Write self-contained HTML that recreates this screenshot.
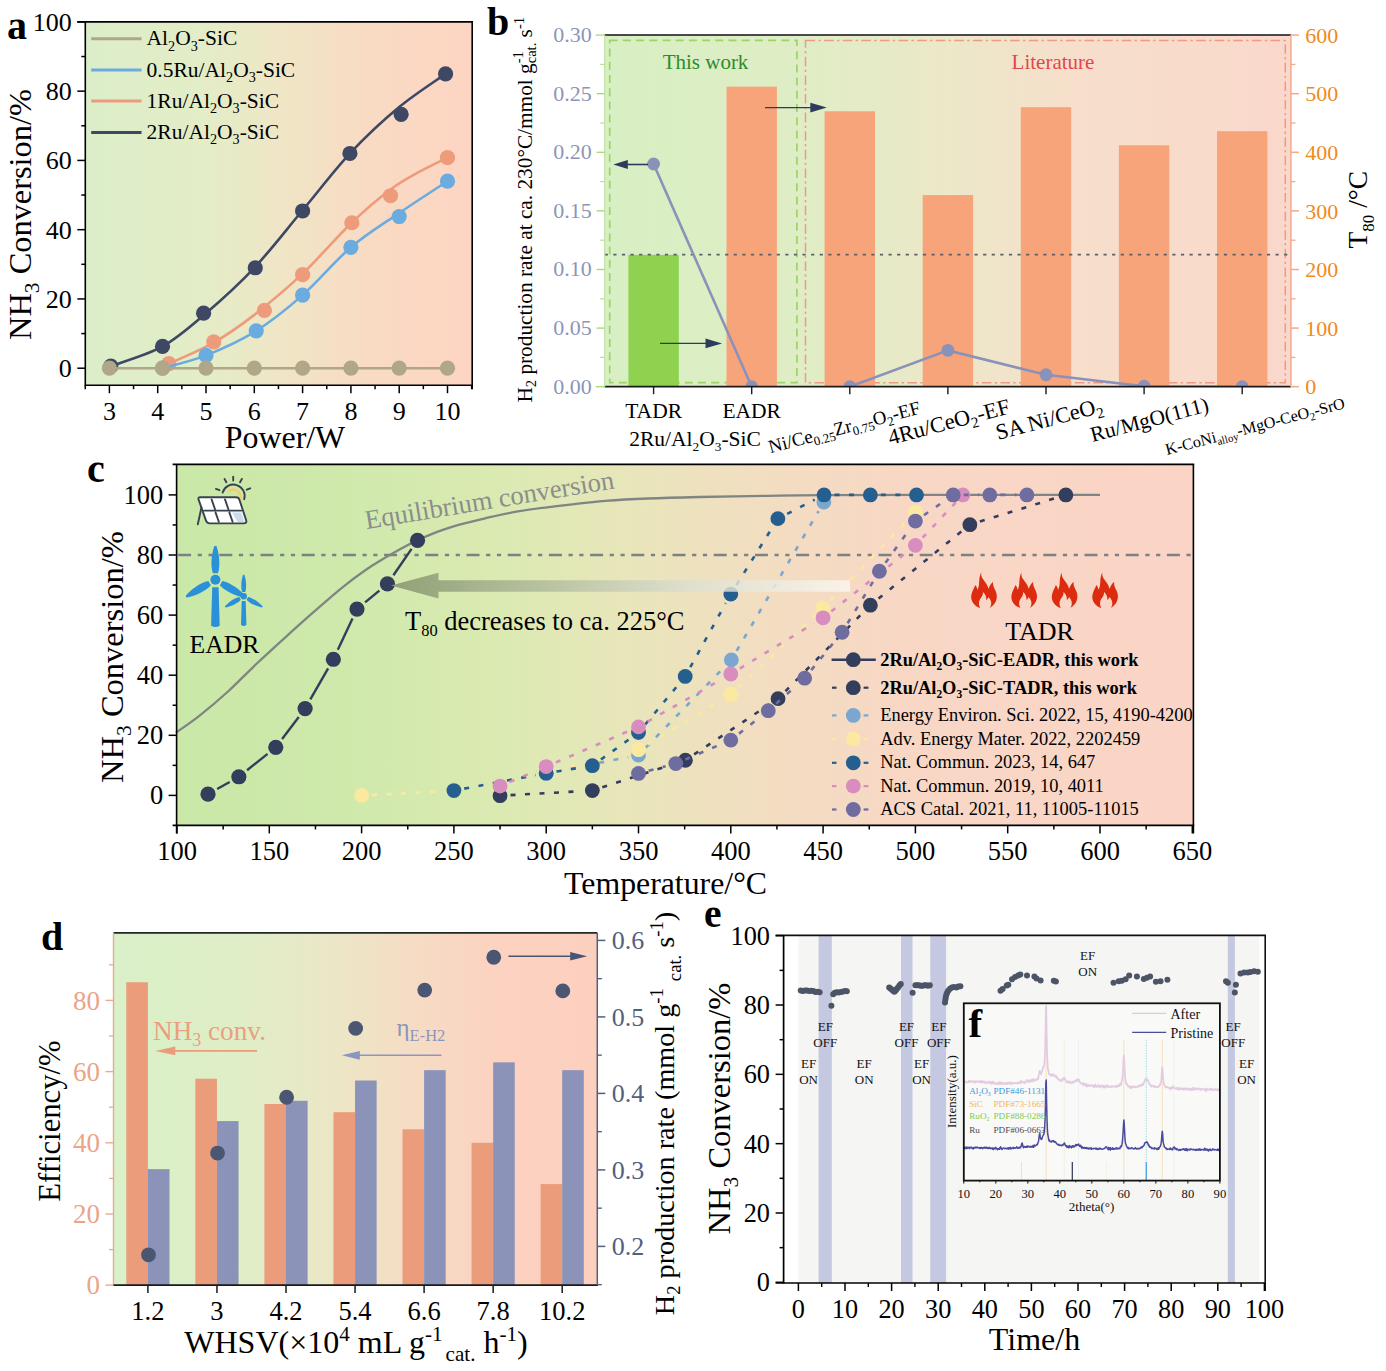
<!DOCTYPE html>
<html lang="en"><head><meta charset="utf-8"><title>Figure</title>
<style>html,body{margin:0;padding:0;background:#fff}svg{display:block}text{font-family:'Liberation Serif', 'Noto Serif CJK SC', serif;white-space:pre}</style></head>
<body>
<svg width="1386" height="1371" viewBox="0 0 1386 1371">
<defs>
<linearGradient id="ga" x1="0" y1="0" x2="1" y2="0"><stop offset="0" stop-color="#dbeec9"/><stop offset="0.3" stop-color="#e3edc7"/><stop offset="0.5" stop-color="#efe6c6"/><stop offset="0.72" stop-color="#f9dbc4"/><stop offset="1" stop-color="#fdd5c2"/></linearGradient>
<linearGradient id="gb" x1="0" y1="0" x2="1" y2="0"><stop offset="0" stop-color="#d8efc3"/><stop offset="0.28" stop-color="#dfedc5"/><stop offset="0.5" stop-color="#ece8c8"/><stop offset="0.68" stop-color="#f6dfcb"/><stop offset="1" stop-color="#fad8cb"/></linearGradient>
<clipPath id="cb"><rect x="604.7" y="35.1" width="686.2" height="351.6"/></clipPath>
<linearGradient id="gc" x1="0" y1="0" x2="1" y2="0"><stop offset="0" stop-color="#cae8a8"/><stop offset="0.15" stop-color="#cee9ab"/><stop offset="0.32" stop-color="#dbeab2"/><stop offset="0.44" stop-color="#e8e6ba"/><stop offset="0.57" stop-color="#f2dec1"/><stop offset="0.72" stop-color="#f8d7c5"/><stop offset="1" stop-color="#fbd4c6"/></linearGradient>
<linearGradient id="garr" x1="0" y1="0" x2="1" y2="0"><stop offset="0" stop-color="#8d9b73" stop-opacity="0.92"/><stop offset="0.1" stop-color="#95a37d" stop-opacity="0.9"/><stop offset="0.35" stop-color="#b3bd9f" stop-opacity="0.85"/><stop offset="0.65" stop-color="#dcdfd0" stop-opacity="0.8"/><stop offset="1" stop-color="#fbf6ee" stop-opacity="0.85"/></linearGradient>
<linearGradient id="gd" x1="0" y1="0" x2="1" y2="0"><stop offset="0" stop-color="#d9f0c8"/><stop offset="0.25" stop-color="#dfeec7"/><stop offset="0.45" stop-color="#ebe7c6"/><stop offset="0.62" stop-color="#f6dcc4"/><stop offset="0.8" stop-color="#fcd2c0"/><stop offset="1" stop-color="#fdcfbe"/></linearGradient>
</defs>
<rect x="85.3" y="21.9" width="386.9" height="363.3" fill="url(#ga)"/>
<path d="M110.85 366.12 C119.46 362.83 146.67 355.21 162.53 346.38 C178.39 337.55 190.7 326.24 206 313.14 C221.3 300.04 238.2 284.91 254.3 267.77 C270.4 250.63 286.5 229.51 302.6 210.29 C318.7 191.07 334.8 169.65 350.9 152.46 C367 135.26 383.42 120.19 399.2 107.09 C414.98 93.99 437.84 79.39 445.57 73.84" fill="none" stroke="#3e4864" stroke-width="2.6"/>
<circle cx="110.85" cy="366.12" r="7.6" fill="#3e4864"/>
<circle cx="162.53" cy="346.38" r="7.6" fill="#3e4864"/>
<circle cx="203.59" cy="313.14" r="7.6" fill="#3e4864"/>
<circle cx="255.27" cy="267.77" r="7.6" fill="#3e4864"/>
<circle cx="302.6" cy="210.98" r="7.6" fill="#3e4864"/>
<circle cx="349.93" cy="153.49" r="7.6" fill="#3e4864"/>
<circle cx="401.13" cy="114.36" r="7.6" fill="#3e4864"/>
<circle cx="445.57" cy="73.84" r="7.6" fill="#3e4864"/>
<path d="M168.81 363.7 C176.3 360.18 199.48 350.71 213.73 342.57 C227.98 334.44 239.49 326.36 254.3 314.87 C269.11 303.38 286.5 288.9 302.6 273.66 C318.7 258.42 336.41 237.36 350.9 223.45 C365.39 209.54 378.27 198.74 389.54 190.2 C400.81 181.66 408.86 177.62 418.52 172.19 C428.18 166.77 442.67 160.07 447.5 157.65" fill="none" stroke="#ee9b7b" stroke-width="2.6"/>
<circle cx="168.81" cy="363.7" r="7.6" fill="#ee9b7b"/>
<circle cx="213.73" cy="341.88" r="7.6" fill="#ee9b7b"/>
<circle cx="264.44" cy="310.37" r="7.6" fill="#ee9b7b"/>
<circle cx="302.6" cy="274.7" r="7.6" fill="#ee9b7b"/>
<circle cx="351.87" cy="222.75" r="7.6" fill="#ee9b7b"/>
<circle cx="390.51" cy="195.74" r="7.6" fill="#ee9b7b"/>
<circle cx="447.5" cy="157.65" r="7.6" fill="#ee9b7b"/>
<path d="M162.53 368.2 C169.77 366.06 190.38 361.62 206 355.39 C221.62 349.15 240.13 340.84 256.23 330.8 C272.33 320.76 286.82 309.04 302.6 295.13 C318.38 281.22 334.8 261.02 350.9 247.34 C367 233.66 383.1 224.08 399.2 213.06 C415.3 202.03 439.45 186.51 447.5 181.2" fill="none" stroke="#6aace0" stroke-width="2.6"/>
<circle cx="162.53" cy="368.2" r="7.6" fill="#6aace0"/>
<circle cx="206" cy="355.39" r="7.6" fill="#6aace0"/>
<circle cx="256.23" cy="330.8" r="7.6" fill="#6aace0"/>
<circle cx="302.6" cy="295.13" r="7.6" fill="#6aace0"/>
<circle cx="350.9" cy="247.34" r="7.6" fill="#6aace0"/>
<circle cx="399.2" cy="216.52" r="7.6" fill="#6aace0"/>
<circle cx="447.5" cy="181.2" r="7.6" fill="#6aace0"/>
<path d="M109.4 368.2 C165.75 368.2 391.15 368.2 447.5 368.2" fill="none" stroke="#b0a688" stroke-width="2.6"/>
<circle cx="109.4" cy="368.2" r="7.6" fill="#b0a688"/>
<circle cx="162.53" cy="368.2" r="7.6" fill="#b0a688"/>
<circle cx="206" cy="368.2" r="7.6" fill="#b0a688"/>
<circle cx="254.3" cy="368.2" r="7.6" fill="#b0a688"/>
<circle cx="302.6" cy="368.2" r="7.6" fill="#b0a688"/>
<circle cx="350.9" cy="368.2" r="7.6" fill="#b0a688"/>
<circle cx="399.2" cy="368.2" r="7.6" fill="#b0a688"/>
<circle cx="447.5" cy="368.2" r="7.6" fill="#b0a688"/>
<line x1="77.3" y1="21.9" x2="473" y2="21.9" stroke="#000" stroke-width="1.8"/>
<line x1="85.3" y1="21.9" x2="85.3" y2="386" stroke="#000" stroke-width="1.6"/>
<line x1="85.3" y1="385.2" x2="473" y2="385.2" stroke="#000" stroke-width="1.6"/>
<line x1="472.2" y1="21.9" x2="472.2" y2="389.2" stroke="#000" stroke-width="1.6"/>
<line x1="77.3" y1="368.2" x2="85.3" y2="368.2" stroke="#000" stroke-width="1.5"/>
<text x="71.7" y="377.1" font-size="26" fill="#000" text-anchor="end">0</text>
<line x1="77.3" y1="298.94" x2="85.3" y2="298.94" stroke="#000" stroke-width="1.5"/>
<text x="71.7" y="307.84" font-size="26" fill="#000" text-anchor="end">20</text>
<line x1="77.3" y1="229.68" x2="85.3" y2="229.68" stroke="#000" stroke-width="1.5"/>
<text x="71.7" y="238.58" font-size="26" fill="#000" text-anchor="end">40</text>
<line x1="77.3" y1="160.42" x2="85.3" y2="160.42" stroke="#000" stroke-width="1.5"/>
<text x="71.7" y="169.32" font-size="26" fill="#000" text-anchor="end">60</text>
<line x1="77.3" y1="91.16" x2="85.3" y2="91.16" stroke="#000" stroke-width="1.5"/>
<text x="71.7" y="100.06" font-size="26" fill="#000" text-anchor="end">80</text>
<line x1="77.3" y1="21.9" x2="85.3" y2="21.9" stroke="#000" stroke-width="1.5"/>
<text x="71.7" y="30.8" font-size="26" fill="#000" text-anchor="end">100</text>
<line x1="81.3" y1="333.57" x2="85.3" y2="333.57" stroke="#000" stroke-width="1.5"/>
<line x1="81.3" y1="264.31" x2="85.3" y2="264.31" stroke="#000" stroke-width="1.5"/>
<line x1="81.3" y1="195.05" x2="85.3" y2="195.05" stroke="#000" stroke-width="1.5"/>
<line x1="81.3" y1="125.79" x2="85.3" y2="125.79" stroke="#000" stroke-width="1.5"/>
<line x1="81.3" y1="56.53" x2="85.3" y2="56.53" stroke="#000" stroke-width="1.5"/>
<line x1="109.4" y1="385.2" x2="109.4" y2="393.2" stroke="#000" stroke-width="1.5"/>
<text x="109.4" y="420" font-size="26" fill="#000" text-anchor="middle">3</text>
<line x1="157.7" y1="385.2" x2="157.7" y2="393.2" stroke="#000" stroke-width="1.5"/>
<text x="157.7" y="420" font-size="26" fill="#000" text-anchor="middle">4</text>
<line x1="206" y1="385.2" x2="206" y2="393.2" stroke="#000" stroke-width="1.5"/>
<text x="206" y="420" font-size="26" fill="#000" text-anchor="middle">5</text>
<line x1="254.3" y1="385.2" x2="254.3" y2="393.2" stroke="#000" stroke-width="1.5"/>
<text x="254.3" y="420" font-size="26" fill="#000" text-anchor="middle">6</text>
<line x1="302.6" y1="385.2" x2="302.6" y2="393.2" stroke="#000" stroke-width="1.5"/>
<text x="302.6" y="420" font-size="26" fill="#000" text-anchor="middle">7</text>
<line x1="350.9" y1="385.2" x2="350.9" y2="393.2" stroke="#000" stroke-width="1.5"/>
<text x="350.9" y="420" font-size="26" fill="#000" text-anchor="middle">8</text>
<line x1="399.2" y1="385.2" x2="399.2" y2="393.2" stroke="#000" stroke-width="1.5"/>
<text x="399.2" y="420" font-size="26" fill="#000" text-anchor="middle">9</text>
<line x1="447.5" y1="385.2" x2="447.5" y2="393.2" stroke="#000" stroke-width="1.5"/>
<text x="447.5" y="420" font-size="26" fill="#000" text-anchor="middle">10</text>
<line x1="85.25" y1="385.2" x2="85.25" y2="389.2" stroke="#000" stroke-width="1.5"/>
<line x1="133.55" y1="385.2" x2="133.55" y2="389.2" stroke="#000" stroke-width="1.5"/>
<line x1="181.85" y1="385.2" x2="181.85" y2="389.2" stroke="#000" stroke-width="1.5"/>
<line x1="230.15" y1="385.2" x2="230.15" y2="389.2" stroke="#000" stroke-width="1.5"/>
<line x1="278.45" y1="385.2" x2="278.45" y2="389.2" stroke="#000" stroke-width="1.5"/>
<line x1="326.75" y1="385.2" x2="326.75" y2="389.2" stroke="#000" stroke-width="1.5"/>
<line x1="375.05" y1="385.2" x2="375.05" y2="389.2" stroke="#000" stroke-width="1.5"/>
<line x1="423.35" y1="385.2" x2="423.35" y2="389.2" stroke="#000" stroke-width="1.5"/>
<line x1="471.65" y1="385.2" x2="471.65" y2="389.2" stroke="#000" stroke-width="1.5"/>
<text x="285" y="448.4" font-size="31.9" fill="#000" text-anchor="middle">Power/W</text>
<text x="30.5" y="214.5" font-size="32.4" fill="#000" text-anchor="middle" transform="rotate(-90 30.5 214.5)">NH<tspan dy="8.42" font-size="21.38">3</tspan><tspan dy="-8.42"> Conversion/%</tspan></text>
<text x="7" y="39" font-size="40" fill="#000" font-weight="bold">a</text>
<line x1="91.2" y1="38.7" x2="141.5" y2="38.7" stroke="#b0a688" stroke-width="3"/>
<text x="146.6" y="45.4" font-size="21.5" fill="#000">Al<tspan dy="5.38" font-size="14.19">2</tspan><tspan dy="-5.38">O</tspan><tspan dy="5.38" font-size="14.19">3</tspan><tspan dy="-5.38">-SiC</tspan></text>
<line x1="91.2" y1="70" x2="141.5" y2="70" stroke="#6aace0" stroke-width="3"/>
<text x="146.6" y="76.7" font-size="21.5" fill="#000">0.5Ru/Al<tspan dy="5.38" font-size="14.19">2</tspan><tspan dy="-5.38">O</tspan><tspan dy="5.38" font-size="14.19">3</tspan><tspan dy="-5.38">-SiC</tspan></text>
<line x1="91.2" y1="101" x2="141.5" y2="101" stroke="#ee9b7b" stroke-width="3"/>
<text x="146.6" y="108" font-size="21.5" fill="#000">1Ru/Al<tspan dy="5.38" font-size="14.19">2</tspan><tspan dy="-5.38">O</tspan><tspan dy="5.38" font-size="14.19">3</tspan><tspan dy="-5.38">-SiC</tspan></text>
<line x1="91.2" y1="132.4" x2="141.5" y2="132.4" stroke="#3e4864" stroke-width="3"/>
<text x="146.6" y="138.8" font-size="21.5" fill="#000">2Ru/Al<tspan dy="5.38" font-size="14.19">2</tspan><tspan dy="-5.38">O</tspan><tspan dy="5.38" font-size="14.19">3</tspan><tspan dy="-5.38">-SiC</tspan></text>
<rect x="604.7" y="35.1" width="686.2" height="351.6" fill="url(#gb)"/>
<rect x="609.7" y="40.4" width="187.2" height="342.3" fill="none" stroke="#9bd468" stroke-width="1.7" stroke-dasharray="8 5.2"/>
<rect x="805.5" y="40.4" width="479.8" height="342.3" fill="none" stroke="#ef9a84" stroke-width="1.5" stroke-dasharray="9.6 3.3 2.4 3.3"/>
<rect x="628.4" y="254.85" width="50.4" height="131.85" fill="#8fd24f"/>
<rect x="726.5" y="86.67" width="50.4" height="300.03" fill="#f7a47b"/>
<rect x="824.6" y="111.28" width="50.4" height="275.42" fill="#f7a47b"/>
<rect x="922.7" y="195.08" width="50.4" height="191.62" fill="#f7a47b"/>
<rect x="1020.8" y="107.18" width="50.4" height="279.52" fill="#f7a47b"/>
<rect x="1118.9" y="145.27" width="50.4" height="241.43" fill="#f7a47b"/>
<rect x="1217" y="131.2" width="50.4" height="255.5" fill="#f7a47b"/>
<line x1="604.7" y1="254.6" x2="1290.9" y2="254.6" stroke="#5b6068" stroke-width="1.6" stroke-dasharray="3.2 5.4"/>
<g clip-path="url(#cb)">
<polyline points="653.6,164.02 751.7,386.7" fill="none" stroke="#8a92b9" stroke-width="2.6"/>
<polyline points="849.8,386.7 947.9,350.37 1046,374.75 1144.1,386.23 1242.2,386.7" fill="none" stroke="#8a92b9" stroke-width="2.6"/>
<circle cx="653.6" cy="164.02" r="6.4" fill="#8a92b9"/>
<circle cx="751.7" cy="386.7" r="6.4" fill="#8a92b9"/>
<circle cx="849.8" cy="386.7" r="6.4" fill="#8a92b9"/>
<circle cx="947.9" cy="350.37" r="6.4" fill="#8a92b9"/>
<circle cx="1046" cy="374.75" r="6.4" fill="#8a92b9"/>
<circle cx="1144.1" cy="386.23" r="6.4" fill="#8a92b9"/>
<circle cx="1242.2" cy="386.7" r="6.4" fill="#8a92b9"/>
</g>
<line x1="648" y1="164.5" x2="624.9" y2="164.5" stroke="#2f3b5c" stroke-width="1.6"/>
<path d="M613.3 164.5 L627.8 159.9 L627.8 169.1 Z" fill="#2f3b5c"/>
<line x1="660" y1="343.4" x2="708.8" y2="343.4" stroke="#2f3b5c" stroke-width="1.4"/>
<path d="M722 343.4 L705.5 338.6 L705.5 348.2 Z" fill="#2f3b5c"/>
<line x1="765" y1="107.6" x2="813.6" y2="107.6" stroke="#2f3b5c" stroke-width="1.4"/>
<path d="M826.8 107.6 L810.3 102.8 L810.3 112.4 Z" fill="#2f3b5c"/>
<line x1="595.7" y1="35.1" x2="604.7" y2="35.1" stroke="#a5db7c" stroke-width="1.3"/>
<line x1="604.7" y1="35.1" x2="1290.9" y2="35.1" stroke="#111" stroke-width="1.5"/>
<line x1="595.7" y1="386.7" x2="604.7" y2="386.7" stroke="#a5db7c" stroke-width="1.5"/>
<line x1="604.7" y1="386.7" x2="1290.9" y2="386.7" stroke="#1a1a1a" stroke-width="1.8"/>
<line x1="604.7" y1="35.1" x2="604.7" y2="386.7" stroke="#bfe3a0" stroke-width="1.2"/>
<line x1="1290.9" y1="35.1" x2="1290.9" y2="386.7" stroke="#f4a88e" stroke-width="1.5"/>
<text x="591.7" y="393.6" font-size="22" fill="#8d95b6" text-anchor="end">0.00</text>
<line x1="596.7" y1="328.1" x2="604.7" y2="328.1" stroke="#a5db7c" stroke-width="1.4"/>
<text x="591.7" y="335" font-size="22" fill="#8d95b6" text-anchor="end">0.05</text>
<line x1="596.7" y1="269.5" x2="604.7" y2="269.5" stroke="#a5db7c" stroke-width="1.4"/>
<text x="591.7" y="276.4" font-size="22" fill="#8d95b6" text-anchor="end">0.10</text>
<line x1="596.7" y1="210.9" x2="604.7" y2="210.9" stroke="#a5db7c" stroke-width="1.4"/>
<text x="591.7" y="217.8" font-size="22" fill="#8d95b6" text-anchor="end">0.15</text>
<line x1="596.7" y1="152.3" x2="604.7" y2="152.3" stroke="#a5db7c" stroke-width="1.4"/>
<text x="591.7" y="159.2" font-size="22" fill="#8d95b6" text-anchor="end">0.20</text>
<line x1="596.7" y1="93.7" x2="604.7" y2="93.7" stroke="#a5db7c" stroke-width="1.4"/>
<text x="591.7" y="100.6" font-size="22" fill="#8d95b6" text-anchor="end">0.25</text>
<text x="591.7" y="42" font-size="22" fill="#8d95b6" text-anchor="end">0.30</text>
<line x1="600.2" y1="357.4" x2="604.7" y2="357.4" stroke="#b5e08f" stroke-width="1.2"/>
<line x1="600.2" y1="298.8" x2="604.7" y2="298.8" stroke="#b5e08f" stroke-width="1.2"/>
<line x1="600.2" y1="240.2" x2="604.7" y2="240.2" stroke="#b5e08f" stroke-width="1.2"/>
<line x1="600.2" y1="181.6" x2="604.7" y2="181.6" stroke="#b5e08f" stroke-width="1.2"/>
<line x1="600.2" y1="123" x2="604.7" y2="123" stroke="#b5e08f" stroke-width="1.2"/>
<line x1="600.2" y1="64.4" x2="604.7" y2="64.4" stroke="#b5e08f" stroke-width="1.2"/>
<line x1="1290.9" y1="386.7" x2="1298.9" y2="386.7" stroke="#f4a88e" stroke-width="1.5"/>
<text x="1305.2" y="394.3" font-size="22" fill="#f08a1d">0</text>
<line x1="1290.9" y1="328.1" x2="1298.9" y2="328.1" stroke="#f4a88e" stroke-width="1.5"/>
<text x="1305.2" y="335.7" font-size="22" fill="#f08a1d">100</text>
<line x1="1290.9" y1="269.5" x2="1298.9" y2="269.5" stroke="#f4a88e" stroke-width="1.5"/>
<text x="1305.2" y="277.1" font-size="22" fill="#f08a1d">200</text>
<line x1="1290.9" y1="210.9" x2="1298.9" y2="210.9" stroke="#f4a88e" stroke-width="1.5"/>
<text x="1305.2" y="218.5" font-size="22" fill="#f08a1d">300</text>
<line x1="1290.9" y1="152.3" x2="1298.9" y2="152.3" stroke="#f4a88e" stroke-width="1.5"/>
<text x="1305.2" y="159.9" font-size="22" fill="#f08a1d">400</text>
<line x1="1290.9" y1="93.7" x2="1298.9" y2="93.7" stroke="#f4a88e" stroke-width="1.5"/>
<text x="1305.2" y="101.3" font-size="22" fill="#f08a1d">500</text>
<line x1="1290.9" y1="35.1" x2="1298.9" y2="35.1" stroke="#f4a88e" stroke-width="1.5"/>
<text x="1305.2" y="42.7" font-size="22" fill="#f08a1d">600</text>
<line x1="1290.9" y1="357.4" x2="1295.4" y2="357.4" stroke="#f4a88e" stroke-width="1.3"/>
<line x1="1290.9" y1="298.8" x2="1295.4" y2="298.8" stroke="#f4a88e" stroke-width="1.3"/>
<line x1="1290.9" y1="240.2" x2="1295.4" y2="240.2" stroke="#f4a88e" stroke-width="1.3"/>
<line x1="1290.9" y1="181.6" x2="1295.4" y2="181.6" stroke="#f4a88e" stroke-width="1.3"/>
<line x1="1290.9" y1="123" x2="1295.4" y2="123" stroke="#f4a88e" stroke-width="1.3"/>
<line x1="1290.9" y1="64.4" x2="1295.4" y2="64.4" stroke="#f4a88e" stroke-width="1.3"/>
<line x1="653.6" y1="386.7" x2="653.6" y2="394.2" stroke="#1a1a1a" stroke-width="1.4"/>
<line x1="751.7" y1="386.7" x2="751.7" y2="394.2" stroke="#1a1a1a" stroke-width="1.4"/>
<line x1="849.8" y1="386.7" x2="849.8" y2="394.2" stroke="#1a1a1a" stroke-width="1.4"/>
<line x1="947.9" y1="386.7" x2="947.9" y2="394.2" stroke="#1a1a1a" stroke-width="1.4"/>
<line x1="1046" y1="386.7" x2="1046" y2="394.2" stroke="#1a1a1a" stroke-width="1.4"/>
<line x1="1144.1" y1="386.7" x2="1144.1" y2="394.2" stroke="#1a1a1a" stroke-width="1.4"/>
<line x1="1242.2" y1="386.7" x2="1242.2" y2="394.2" stroke="#1a1a1a" stroke-width="1.4"/>
<text x="705.5" y="69.3" font-size="21" fill="#2f8a2e" text-anchor="middle">This work</text>
<text x="1053" y="69" font-size="21" fill="#e2464c" text-anchor="middle">Literature</text>
<text x="653.6" y="418.2" font-size="21.5" fill="#000" text-anchor="middle">TADR</text>
<text x="751.7" y="418.2" font-size="21.5" fill="#000" text-anchor="middle">EADR</text>
<text x="695" y="446.2" font-size="21.5" fill="#000" text-anchor="middle">2Ru/Al<tspan dy="4.73" font-size="13.33">2</tspan><tspan dy="-4.73">O</tspan><tspan dy="4.73" font-size="13.33">3</tspan><tspan dy="-4.73">-SiC</tspan></text>
<text x="845.8" y="433.3" font-size="18.9" fill="#000" text-anchor="middle" transform="rotate(-14.8 845.8 433.3)">Ni/Ce<tspan dy="4.16" font-size="12.85">0.25</tspan><tspan dy="-4.16">Zr</tspan><tspan dy="4.16" font-size="12.85">0.75</tspan><tspan dy="-4.16">O</tspan><tspan dy="4.16" font-size="12.85">2</tspan><tspan dy="-4.16">-EF</tspan></text>
<text x="950.7" y="429" font-size="22.3" fill="#000" text-anchor="middle" transform="rotate(-14.8 950.7 429)">4Ru/CeO<tspan dy="4.91" font-size="15.16">2</tspan><tspan dy="-4.91">-EF</tspan></text>
<text x="1051" y="426" font-size="22.3" fill="#000" text-anchor="middle" transform="rotate(-14.8 1051 426)">SA Ni/CeO<tspan dy="4.91" font-size="15.16">2</tspan></text>
<text x="1151.3" y="426.5" font-size="21.5" fill="#000" text-anchor="middle" transform="rotate(-14.8 1151.3 426.5)">Ru/MgO(111)</text>
<text x="1256.4" y="431.5" font-size="16.1" fill="#000" text-anchor="middle" transform="rotate(-14.8 1256.4 431.5)">K-CoNi<tspan dy="3.54" font-size="10.95">alloy</tspan><tspan dy="-3.54">-MgO-CeO</tspan><tspan dy="3.54" font-size="10.95">2</tspan><tspan dy="-3.54">-SrO</tspan></text>
<text x="531.6" y="209.8" font-size="21.3" fill="#000" text-anchor="middle" transform="rotate(-90 531.6 209.8)">H<tspan dy="4.69" font-size="14.48">2</tspan><tspan dy="-4.69"> production rate at ca. 230°C/mmol g</tspan><tspan dy="-8.95" font-size="14.48">-1</tspan><tspan dx="-12" dy="13.21" font-size="14.48">cat.</tspan><tspan dy="-4.26"> s</tspan><tspan dy="-8.09" font-size="14.48">-1</tspan></text>
<text x="1367.5" y="209.7" font-size="27.5" fill="#000" text-anchor="middle" transform="rotate(-90 1367.5 209.7)">T<tspan dy="6.05" font-size="17.05">80</tspan><tspan dy="-6.05"> /°C</tspan></text>
<text x="487" y="35.2" font-size="40" fill="#000" font-weight="bold">b</text>
<rect x="176.6" y="464.3" width="1016.8" height="361.1" fill="url(#gc)"/>
<line x1="176.6" y1="555" x2="1193.4" y2="555" stroke="#7c8184" stroke-width="2.5" stroke-dasharray="13 6.6 4.2 6.6 4.2 6.6" stroke-dashoffset="-1.5"/>
<path d="M175.89 732.6 C179.74 729.84 190.32 722.88 198.97 716.07 C207.61 709.26 218.17 700.44 227.76 691.73 C237.36 683.01 246.96 672.85 256.56 663.78 C266.16 654.72 275.73 646.05 285.36 637.34 C294.99 628.62 304.71 619.91 314.34 611.49 C323.97 603.08 333.54 594.47 343.14 586.85 C352.74 579.24 362.31 572.18 371.94 565.82 C381.57 559.46 391.29 553.85 400.92 548.69 C410.55 543.53 420.12 538.82 429.72 534.87 C439.32 530.91 448.89 527.8 458.51 524.95 C468.14 522.1 477.87 519.94 487.5 517.74 C497.13 515.53 506.7 513.43 516.29 511.73 C525.89 510.03 536.14 508.72 545.09 507.52 C554.05 506.32 559.98 505.62 570.01 504.52 C580.04 503.41 592.32 501.91 605.27 500.91 C618.22 499.91 632.04 499.16 647.73 498.51 C663.42 497.85 679.42 497.45 699.42 497 C719.42 496.55 747.11 496.1 767.72 495.8 C788.33 495.5 792.33 495.35 823.1 495.2 C853.87 495.05 906.17 494.95 952.32 494.9 C998.47 494.85 1075.39 494.9 1100 494.9" fill="none" stroke="#7f8582" stroke-width="2.3"/>
<text x="366.5" y="529" font-size="26.6" fill="#8a8f8c" transform="rotate(-9.3 366.5 529)">Equilibrium conversion</text>
<line x1="510.53" y1="795.12" x2="581.87" y2="791.17" stroke="#333d5c" stroke-width="2.6" stroke-dasharray="5 9.5"/>
<line x1="602.33" y1="787.34" x2="675.41" y2="763.5" stroke="#333d5c" stroke-width="2.6" stroke-dasharray="5 9.5"/>
<line x1="694.13" y1="754.43" x2="769.31" y2="704.45" stroke="#333d5c" stroke-width="2.6" stroke-dasharray="5 9.5"/>
<line x1="785.44" y1="691.17" x2="862.98" y2="612.65" stroke="#333d5c" stroke-width="2.6" stroke-dasharray="5 9.5"/>
<line x1="878.52" y1="598.58" x2="961.7" y2="531.26" stroke="#333d5c" stroke-width="2.6" stroke-dasharray="5 9.5"/>
<line x1="979.89" y1="521.54" x2="1055.82" y2="498.01" stroke="#333d5c" stroke-width="2.6" stroke-dasharray="5 9.5"/>
<circle cx="500.05" cy="795.7" r="7.4" fill="#333d5c"/>
<circle cx="592.35" cy="790.59" r="7.4" fill="#333d5c"/>
<circle cx="685.39" cy="760.24" r="7.4" fill="#333d5c"/>
<circle cx="778.06" cy="698.64" r="7.4" fill="#333d5c"/>
<circle cx="870.36" cy="605.18" r="7.4" fill="#333d5c"/>
<circle cx="969.86" cy="524.65" r="7.4" fill="#333d5c"/>
<circle cx="1065.85" cy="494.9" r="7.4" fill="#333d5c"/>
<line x1="556.51" y1="771.15" x2="628.19" y2="757.15" stroke="#7ba6cf" stroke-width="2.6" stroke-dasharray="5 9.5"/>
<line x1="645.83" y1="747.61" x2="724.02" y2="667.39" stroke="#7ba6cf" stroke-width="2.6" stroke-dasharray="5 9.5"/>
<line x1="736.66" y1="650.82" x2="818.53" y2="511.17" stroke="#7ba6cf" stroke-width="2.6" stroke-dasharray="5 9.5"/>
<circle cx="546.2" cy="773.16" r="7.4" fill="#7ba6cf"/>
<circle cx="638.5" cy="755.13" r="7.4" fill="#7ba6cf"/>
<circle cx="731.35" cy="659.87" r="7.4" fill="#7ba6cf"/>
<circle cx="823.84" cy="502.11" r="7.4" fill="#7ba6cf"/>
<line x1="372.09" y1="794.89" x2="443.41" y2="791.4" stroke="#fce9a0" stroke-width="2.6" stroke-dasharray="5 9.5"/>
<line x1="464.21" y1="788.91" x2="535.89" y2="775.14" stroke="#fce9a0" stroke-width="2.6" stroke-dasharray="5 9.5"/>
<line x1="556.38" y1="770.58" x2="628.32" y2="752.31" stroke="#fce9a0" stroke-width="2.6" stroke-dasharray="5 9.5"/>
<line x1="647.51" y1="744.33" x2="721.79" y2="699.83" stroke="#fce9a0" stroke-width="2.6" stroke-dasharray="5 9.5"/>
<line x1="738.46" y1="687.25" x2="815.44" y2="615.07" stroke="#fce9a0" stroke-width="2.6" stroke-dasharray="5 9.5"/>
<line x1="830.39" y1="600.34" x2="908.11" y2="519.88" stroke="#fce9a0" stroke-width="2.6" stroke-dasharray="5 9.5"/>
<circle cx="361.6" cy="795.4" r="7.4" fill="#fce9a0"/>
<circle cx="638.5" cy="749.72" r="7.4" fill="#fce9a0"/>
<circle cx="730.8" cy="694.43" r="7.4" fill="#fce9a0"/>
<circle cx="823.1" cy="607.89" r="7.4" fill="#fce9a0"/>
<circle cx="915.4" cy="512.33" r="7.4" fill="#fce9a0"/>
<line x1="464.22" y1="788.64" x2="535.88" y2="775.11" stroke="#245f8f" stroke-width="2.6" stroke-dasharray="5 9.5"/>
<line x1="556.56" y1="771.48" x2="581.99" y2="767.34" stroke="#245f8f" stroke-width="2.6" stroke-dasharray="5 9.5"/>
<line x1="600.89" y1="759.54" x2="629.96" y2="738.71" stroke="#245f8f" stroke-width="2.6" stroke-dasharray="5 9.5"/>
<line x1="645.21" y1="724.52" x2="678.49" y2="684.48" stroke="#245f8f" stroke-width="2.6" stroke-dasharray="5 9.5"/>
<line x1="690.29" y1="667.22" x2="725.71" y2="603.25" stroke="#245f8f" stroke-width="2.6" stroke-dasharray="5 9.5"/>
<line x1="736.36" y1="585.16" x2="772.31" y2="527.55" stroke="#245f8f" stroke-width="2.6" stroke-dasharray="5 9.5"/>
<line x1="787.21" y1="513.84" x2="814.69" y2="499.7" stroke="#245f8f" stroke-width="2.6" stroke-dasharray="5 9.5"/>
<line x1="834.52" y1="494.9" x2="859.86" y2="494.9" stroke="#245f8f" stroke-width="2.6" stroke-dasharray="5 9.5"/>
<line x1="880.86" y1="494.9" x2="906.01" y2="494.9" stroke="#245f8f" stroke-width="2.6" stroke-dasharray="5 9.5"/>
<circle cx="453.9" cy="790.59" r="7.4" fill="#245f8f"/>
<circle cx="546.2" cy="773.16" r="7.4" fill="#245f8f"/>
<circle cx="592.35" cy="765.65" r="7.4" fill="#245f8f"/>
<circle cx="638.5" cy="732.6" r="7.4" fill="#245f8f"/>
<circle cx="685.2" cy="676.4" r="7.4" fill="#245f8f"/>
<circle cx="730.8" cy="594.07" r="7.4" fill="#245f8f"/>
<circle cx="777.87" cy="518.64" r="7.4" fill="#245f8f"/>
<circle cx="824.02" cy="494.9" r="7.4" fill="#245f8f"/>
<circle cx="870.36" cy="494.9" r="7.4" fill="#245f8f"/>
<circle cx="916.51" cy="494.9" r="7.4" fill="#245f8f"/>
<line x1="509.72" y1="781.99" x2="536.53" y2="770.64" stroke="#d88cc0" stroke-width="2.6" stroke-dasharray="5 9.5"/>
<line x1="555.85" y1="762.41" x2="628.85" y2="731.03" stroke="#d88cc0" stroke-width="2.6" stroke-dasharray="5 9.5"/>
<line x1="647.61" y1="721.67" x2="721.69" y2="679.22" stroke="#d88cc0" stroke-width="2.6" stroke-dasharray="5 9.5"/>
<line x1="739.77" y1="668.54" x2="814.13" y2="623.26" stroke="#d88cc0" stroke-width="2.6" stroke-dasharray="5 9.5"/>
<line x1="831.36" y1="611.32" x2="907.14" y2="551.87" stroke="#d88cc0" stroke-width="2.6" stroke-dasharray="5 9.5"/>
<line x1="922.59" y1="537.73" x2="955.65" y2="502.55" stroke="#d88cc0" stroke-width="2.6" stroke-dasharray="5 9.5"/>
<circle cx="500.05" cy="786.08" r="7.4" fill="#d88cc0"/>
<circle cx="546.2" cy="766.55" r="7.4" fill="#d88cc0"/>
<circle cx="638.5" cy="726.89" r="7.4" fill="#d88cc0"/>
<circle cx="730.8" cy="674" r="7.4" fill="#d88cc0"/>
<circle cx="823.1" cy="617.8" r="7.4" fill="#d88cc0"/>
<circle cx="915.4" cy="545.38" r="7.4" fill="#d88cc0"/>
<circle cx="962.84" cy="494.9" r="7.4" fill="#d88cc0"/>
<line x1="648.65" y1="770.76" x2="665.64" y2="766.25" stroke="#6f6ca0" stroke-width="2.6" stroke-dasharray="5 9.5"/>
<line x1="685.45" y1="759.43" x2="721.14" y2="744.22" stroke="#6f6ca0" stroke-width="2.6" stroke-dasharray="5 9.5"/>
<line x1="739.06" y1="733.62" x2="760.02" y2="717.15" stroke="#6f6ca0" stroke-width="2.6" stroke-dasharray="5 9.5"/>
<line x1="776.11" y1="703.67" x2="796.81" y2="685.2" stroke="#6f6ca0" stroke-width="2.6" stroke-dasharray="5 9.5"/>
<line x1="811.27" y1="670.07" x2="835.48" y2="640.37" stroke="#6f6ca0" stroke-width="2.6" stroke-dasharray="5 9.5"/>
<line x1="847.59" y1="623.27" x2="873.93" y2="580.19" stroke="#6f6ca0" stroke-width="2.6" stroke-dasharray="5 9.5"/>
<line x1="885.52" y1="562.7" x2="909.28" y2="529.58" stroke="#6f6ca0" stroke-width="2.6" stroke-dasharray="5 9.5"/>
<line x1="924.04" y1="515.08" x2="944.6" y2="500.87" stroke="#6f6ca0" stroke-width="2.6" stroke-dasharray="5 9.5"/>
<line x1="963.74" y1="494.9" x2="979.29" y2="494.9" stroke="#6f6ca0" stroke-width="2.6" stroke-dasharray="5 9.5"/>
<line x1="1000.29" y1="494.9" x2="1016.4" y2="494.9" stroke="#6f6ca0" stroke-width="2.6" stroke-dasharray="5 9.5"/>
<circle cx="638.5" cy="773.46" r="7.4" fill="#6f6ca0"/>
<circle cx="675.79" cy="763.55" r="7.4" fill="#6f6ca0"/>
<circle cx="730.8" cy="740.11" r="7.4" fill="#6f6ca0"/>
<circle cx="768.27" cy="710.66" r="7.4" fill="#6f6ca0"/>
<circle cx="804.64" cy="678.2" r="7.4" fill="#6f6ca0"/>
<circle cx="842.11" cy="632.23" r="7.4" fill="#6f6ca0"/>
<circle cx="879.4" cy="571.23" r="7.4" fill="#6f6ca0"/>
<circle cx="915.4" cy="521.04" r="7.4" fill="#6f6ca0"/>
<circle cx="953.24" cy="494.9" r="7.4" fill="#6f6ca0"/>
<circle cx="989.79" cy="494.9" r="7.4" fill="#6f6ca0"/>
<circle cx="1026.9" cy="494.9" r="7.4" fill="#6f6ca0"/>
<line x1="217.15" y1="789.03" x2="229.7" y2="781.94" stroke="#333d5c" stroke-width="2.4"/>
<line x1="247.05" y1="770.22" x2="267.55" y2="753.87" stroke="#333d5c" stroke-width="2.4"/>
<line x1="282.1" y1="738.95" x2="298.77" y2="716.93" stroke="#333d5c" stroke-width="2.4"/>
<line x1="310.33" y1="699.45" x2="328.14" y2="668.38" stroke="#333d5c" stroke-width="2.4"/>
<line x1="337.83" y1="649.77" x2="352.51" y2="618.59" stroke="#333d5c" stroke-width="2.4"/>
<line x1="365.07" y1="602.39" x2="379.36" y2="590.55" stroke="#333d5c" stroke-width="2.4"/>
<line x1="393.41" y1="575.21" x2="411.57" y2="548.92" stroke="#333d5c" stroke-width="2.4"/>
<circle cx="208.01" cy="794.2" r="7.6" fill="#333d5c"/>
<circle cx="238.84" cy="776.77" r="7.6" fill="#333d5c"/>
<circle cx="275.76" cy="747.32" r="7.6" fill="#333d5c"/>
<circle cx="305.11" cy="708.56" r="7.6" fill="#333d5c"/>
<circle cx="333.36" cy="659.27" r="7.6" fill="#333d5c"/>
<circle cx="356.99" cy="609.09" r="7.6" fill="#333d5c"/>
<circle cx="387.44" cy="583.85" r="7.6" fill="#333d5c"/>
<circle cx="417.53" cy="540.28" r="7.6" fill="#333d5c"/>
<path d="M391 585.6 L438.5 572.8 L438.5 580.2 L850 580.2 L850 591.8 L438.5 591.8 L438.5 598.4 Z" fill="url(#garr)"/>
<text x="405" y="630.3" font-size="26.5" fill="#000">T<tspan dy="5.83" font-size="16.43">80</tspan><tspan dy="-5.83"> decreases to ca. 225°C</tspan></text>
<text x="224.5" y="653.2" font-size="25.7" fill="#000" text-anchor="middle">EADR</text>
<text x="1039.5" y="639.6" font-size="26" fill="#000" text-anchor="middle">TADR</text>
<g fill="none" stroke="#38434f" stroke-width="1.9" stroke-linecap="round" stroke-linejoin="round">
<path d="M222.6 492.6 A11 11 0 0 1 244.2 499.2"/>
<path d="M228.5 491.2 A7.6 7.6 0 0 1 240.6 497.6" stroke="#f6cd6c" stroke-width="2.6"/>
<line x1="219.48" y1="490.21" x2="215.91" y2="488.91" stroke="#38434f" stroke-width="1.9"/>
<line x1="226.35" y1="482.31" x2="224.56" y2="478.95" stroke="#38434f" stroke-width="1.9"/>
<line x1="233.2" y1="480.6" x2="233.2" y2="476.8" stroke="#38434f" stroke-width="1.9"/>
<line x1="240.05" y1="482.31" x2="241.84" y2="478.95" stroke="#38434f" stroke-width="1.9"/>
<line x1="246.74" y1="489.73" x2="250.26" y2="488.31" stroke="#38434f" stroke-width="1.9"/>
<path d="M200.2 497.2 L236.2 497.2 Q238.6 497.2 239.4 499.6 L246.2 520.4 Q247 523.4 243.8 523.4 L209.6 523.4 Q206.8 523.4 206 520.6 L198.6 499.6 Q197.8 497.2 200.2 497.2 Z" fill="#ffffff"/>
<path d="M232 512.4 L241.4 512.4 L244.6 522 L237.6 522 Z" fill="#c9dcea" stroke="none"/>
<path d="M204 510.6 L241.2 510.6 M211.6 499.4 L215 509.2 M225 499.4 L228.4 509.2 M215.6 512.6 L218.8 521.8 M229.4 512.6 L232.6 521.8"/>
<path d="M201.4 507.6 L197.8 524.4"/>
</g>
<g fill="#2a90d8"><circle cx="215.4" cy="579.8" r="5"/><path transform="rotate(0 215.4 579.8)" d="M212.86 573.16 C210.28 565.46 211.5 554.46 214.17 546.49 Q215.4 544.83 216.63 546.49 C219.3 554.46 220.53 565.46 217.94 573.16 Z"/><path transform="rotate(120 215.4 579.8)" d="M212.86 573.16 C210.28 565.46 211.5 554.46 214.17 546.49 Q215.4 544.83 216.63 546.49 C219.3 554.46 220.53 565.46 217.94 573.16 Z"/><path transform="rotate(-120 215.4 579.8)" d="M212.86 573.16 C210.28 565.46 211.5 554.46 214.17 546.49 Q215.4 544.83 216.63 546.49 C219.3 554.46 220.53 565.46 217.94 573.16 Z"/><path d="M212.2 587.26 L218.6 587.26 L219.7 625.8 Q215.4 628.4 211.1 625.8 L212.2 587.26 Z"/></g>
<g fill="#2a90d8"><circle cx="243.7" cy="596.2" r="3.2"/><path transform="rotate(0 243.7 596.2)" d="M242.15 592 C240.57 587.13 241.32 580.17 242.95 575.12 Q243.7 574.08 244.45 575.12 C246.07 580.17 246.82 587.13 245.25 592 Z"/><path transform="rotate(120 243.7 596.2)" d="M242.15 592 C240.57 587.13 241.32 580.17 242.95 575.12 Q243.7 574.08 244.45 575.12 C246.07 580.17 246.82 587.13 245.25 592 Z"/><path transform="rotate(-120 243.7 596.2)" d="M242.15 592 C240.57 587.13 241.32 580.17 242.95 575.12 Q243.7 574.08 244.45 575.12 C246.07 580.17 246.82 587.13 245.25 592 Z"/><path d="M241.7 600.9 L245.7 600.9 L246.4 624.8 Q243.7 627.4 241 624.8 L241.7 600.9 Z"/></g>
<path transform="translate(970.8 572.3)" d="M10.6 0 C9.2 4.6 13.4 8 15.6 11.6 C16.6 13.2 17.4 15 17.6 16.6 C18.8 14 19.6 11.6 22.2 9.4 C21.6 13 23.4 15.6 24.8 18.6 C27.6 24.6 25.6 31.6 19 35.6 C21.6 31.4 20.4 27.6 17.6 24.6 C17.2 26 16.4 27 15.4 27.6 C15.8 24.6 14.6 21.8 12.2 19.6 C12.4 23.2 10.4 24.8 9.2 27 C7.8 29.6 7.6 32.6 9.4 35.8 C3.2 33.4 -0.6 28.6 0.6 22.4 C1.2 18.6 3.4 16.2 4.4 12.6 C5.8 14.2 6.4 15.6 6.6 17.6 C9.6 13 7 6.2 10.6 0 Z" fill="#dc2b0e"/>
<path transform="translate(1011 572.3)" d="M10.6 0 C9.2 4.6 13.4 8 15.6 11.6 C16.6 13.2 17.4 15 17.6 16.6 C18.8 14 19.6 11.6 22.2 9.4 C21.6 13 23.4 15.6 24.8 18.6 C27.6 24.6 25.6 31.6 19 35.6 C21.6 31.4 20.4 27.6 17.6 24.6 C17.2 26 16.4 27 15.4 27.6 C15.8 24.6 14.6 21.8 12.2 19.6 C12.4 23.2 10.4 24.8 9.2 27 C7.8 29.6 7.6 32.6 9.4 35.8 C3.2 33.4 -0.6 28.6 0.6 22.4 C1.2 18.6 3.4 16.2 4.4 12.6 C5.8 14.2 6.4 15.6 6.6 17.6 C9.6 13 7 6.2 10.6 0 Z" fill="#dc2b0e"/>
<path transform="translate(1051.4 572.3)" d="M10.6 0 C9.2 4.6 13.4 8 15.6 11.6 C16.6 13.2 17.4 15 17.6 16.6 C18.8 14 19.6 11.6 22.2 9.4 C21.6 13 23.4 15.6 24.8 18.6 C27.6 24.6 25.6 31.6 19 35.6 C21.6 31.4 20.4 27.6 17.6 24.6 C17.2 26 16.4 27 15.4 27.6 C15.8 24.6 14.6 21.8 12.2 19.6 C12.4 23.2 10.4 24.8 9.2 27 C7.8 29.6 7.6 32.6 9.4 35.8 C3.2 33.4 -0.6 28.6 0.6 22.4 C1.2 18.6 3.4 16.2 4.4 12.6 C5.8 14.2 6.4 15.6 6.6 17.6 C9.6 13 7 6.2 10.6 0 Z" fill="#dc2b0e"/>
<path transform="translate(1091.9 572.3)" d="M10.6 0 C9.2 4.6 13.4 8 15.6 11.6 C16.6 13.2 17.4 15 17.6 16.6 C18.8 14 19.6 11.6 22.2 9.4 C21.6 13 23.4 15.6 24.8 18.6 C27.6 24.6 25.6 31.6 19 35.6 C21.6 31.4 20.4 27.6 17.6 24.6 C17.2 26 16.4 27 15.4 27.6 C15.8 24.6 14.6 21.8 12.2 19.6 C12.4 23.2 10.4 24.8 9.2 27 C7.8 29.6 7.6 32.6 9.4 35.8 C3.2 33.4 -0.6 28.6 0.6 22.4 C1.2 18.6 3.4 16.2 4.4 12.6 C5.8 14.2 6.4 15.6 6.6 17.6 C9.6 13 7 6.2 10.6 0 Z" fill="#dc2b0e"/>
<line x1="831.6" y1="659.7" x2="875.8" y2="659.7" stroke="#333d5c" stroke-width="2.4"/>
<circle cx="853.3" cy="659.7" r="7.4" fill="#333d5c"/>
<text x="880.2" y="666" font-size="18.4" fill="#000" font-weight="bold">2Ru/Al<tspan dy="4.05" font-size="11.41">2</tspan><tspan dy="-4.05">O</tspan><tspan dy="4.05" font-size="11.41">3</tspan><tspan dy="-4.05">-SiC-EADR, this work</tspan></text>
<line x1="832" y1="687.7" x2="836.5" y2="687.7" stroke="#333d5c" stroke-width="2.2"/>
<line x1="863.6" y1="687.7" x2="868.4" y2="687.7" stroke="#333d5c" stroke-width="2.2"/>
<circle cx="853.3" cy="687.7" r="7.4" fill="#333d5c"/>
<text x="880.2" y="694" font-size="18.4" fill="#000" font-weight="bold">2Ru/Al<tspan dy="4.05" font-size="11.41">2</tspan><tspan dy="-4.05">O</tspan><tspan dy="4.05" font-size="11.41">3</tspan><tspan dy="-4.05">-SiC-TADR, this work</tspan></text>
<line x1="832" y1="715.4" x2="836.5" y2="715.4" stroke="#7ba6cf" stroke-width="2.2"/>
<line x1="863.6" y1="715.4" x2="868.4" y2="715.4" stroke="#7ba6cf" stroke-width="2.2"/>
<circle cx="853.3" cy="715.4" r="7.4" fill="#7ba6cf"/>
<text x="880.2" y="721" font-size="18.45" fill="#000">Energy Environ. Sci. 2022, 15, 4190-4200</text>
<line x1="832" y1="739.1" x2="836.5" y2="739.1" stroke="#fce9a0" stroke-width="2.2"/>
<line x1="863.6" y1="739.1" x2="868.4" y2="739.1" stroke="#fce9a0" stroke-width="2.2"/>
<circle cx="853.3" cy="739.1" r="7.4" fill="#fce9a0"/>
<text x="880.2" y="744.7" font-size="18.45" fill="#000">Adv. Energy Mater. 2022, 2202459</text>
<line x1="832" y1="762.8" x2="836.5" y2="762.8" stroke="#245f8f" stroke-width="2.2"/>
<line x1="863.6" y1="762.8" x2="868.4" y2="762.8" stroke="#245f8f" stroke-width="2.2"/>
<circle cx="853.3" cy="762.8" r="7.4" fill="#245f8f"/>
<text x="880.2" y="768.2" font-size="18.45" fill="#000">Nat. Commun. 2023, 14, 647</text>
<line x1="832" y1="786.1" x2="836.5" y2="786.1" stroke="#d88cc0" stroke-width="2.2"/>
<line x1="863.6" y1="786.1" x2="868.4" y2="786.1" stroke="#d88cc0" stroke-width="2.2"/>
<circle cx="853.3" cy="786.1" r="7.4" fill="#d88cc0"/>
<text x="880.2" y="791.7" font-size="18.45" fill="#000">Nat. Commun. 2019, 10, 4011</text>
<line x1="832" y1="809.5" x2="836.5" y2="809.5" stroke="#6f6ca0" stroke-width="2.2"/>
<line x1="863.6" y1="809.5" x2="868.4" y2="809.5" stroke="#6f6ca0" stroke-width="2.2"/>
<circle cx="853.3" cy="809.5" r="7.4" fill="#6f6ca0"/>
<text x="880.2" y="815.3" font-size="18.45" fill="#000">ACS Catal. 2021, 11, 11005-11015</text>
<line x1="172.6" y1="464.3" x2="1194.2" y2="464.3" stroke="#000" stroke-width="1.8"/>
<line x1="176.6" y1="464.3" x2="176.6" y2="833.4" stroke="#000" stroke-width="1.6"/>
<line x1="172.6" y1="825.4" x2="1194.2" y2="825.4" stroke="#000" stroke-width="1.6"/>
<line x1="1193.4" y1="464.3" x2="1193.4" y2="833.4" stroke="#000" stroke-width="1.6"/>
<line x1="168.6" y1="795.4" x2="176.6" y2="795.4" stroke="#000" stroke-width="1.5"/>
<text x="163.2" y="804.3" font-size="26.5" fill="#000" text-anchor="end">0</text>
<line x1="168.6" y1="735.3" x2="176.6" y2="735.3" stroke="#000" stroke-width="1.5"/>
<text x="163.2" y="744.2" font-size="26.5" fill="#000" text-anchor="end">20</text>
<line x1="168.6" y1="675.2" x2="176.6" y2="675.2" stroke="#000" stroke-width="1.5"/>
<text x="163.2" y="684.1" font-size="26.5" fill="#000" text-anchor="end">40</text>
<line x1="168.6" y1="615.1" x2="176.6" y2="615.1" stroke="#000" stroke-width="1.5"/>
<text x="163.2" y="624" font-size="26.5" fill="#000" text-anchor="end">60</text>
<line x1="168.6" y1="555" x2="176.6" y2="555" stroke="#000" stroke-width="1.5"/>
<text x="163.2" y="563.9" font-size="26.5" fill="#000" text-anchor="end">80</text>
<line x1="168.6" y1="494.9" x2="176.6" y2="494.9" stroke="#000" stroke-width="1.5"/>
<text x="163.2" y="503.8" font-size="26.5" fill="#000" text-anchor="end">100</text>
<line x1="172.6" y1="765.35" x2="176.6" y2="765.35" stroke="#000" stroke-width="1.5"/>
<line x1="172.6" y1="705.25" x2="176.6" y2="705.25" stroke="#000" stroke-width="1.5"/>
<line x1="172.6" y1="645.15" x2="176.6" y2="645.15" stroke="#000" stroke-width="1.5"/>
<line x1="172.6" y1="585.05" x2="176.6" y2="585.05" stroke="#000" stroke-width="1.5"/>
<line x1="172.6" y1="524.95" x2="176.6" y2="524.95" stroke="#000" stroke-width="1.5"/>
<line x1="177" y1="825.4" x2="177" y2="833.4" stroke="#000" stroke-width="1.5"/>
<text x="177" y="860.3" font-size="26.5" fill="#000" text-anchor="middle">100</text>
<line x1="269.3" y1="825.4" x2="269.3" y2="833.4" stroke="#000" stroke-width="1.5"/>
<text x="269.3" y="860.3" font-size="26.5" fill="#000" text-anchor="middle">150</text>
<line x1="361.6" y1="825.4" x2="361.6" y2="833.4" stroke="#000" stroke-width="1.5"/>
<text x="361.6" y="860.3" font-size="26.5" fill="#000" text-anchor="middle">200</text>
<line x1="453.9" y1="825.4" x2="453.9" y2="833.4" stroke="#000" stroke-width="1.5"/>
<text x="453.9" y="860.3" font-size="26.5" fill="#000" text-anchor="middle">250</text>
<line x1="546.2" y1="825.4" x2="546.2" y2="833.4" stroke="#000" stroke-width="1.5"/>
<text x="546.2" y="860.3" font-size="26.5" fill="#000" text-anchor="middle">300</text>
<line x1="638.5" y1="825.4" x2="638.5" y2="833.4" stroke="#000" stroke-width="1.5"/>
<text x="638.5" y="860.3" font-size="26.5" fill="#000" text-anchor="middle">350</text>
<line x1="730.8" y1="825.4" x2="730.8" y2="833.4" stroke="#000" stroke-width="1.5"/>
<text x="730.8" y="860.3" font-size="26.5" fill="#000" text-anchor="middle">400</text>
<line x1="823.1" y1="825.4" x2="823.1" y2="833.4" stroke="#000" stroke-width="1.5"/>
<text x="823.1" y="860.3" font-size="26.5" fill="#000" text-anchor="middle">450</text>
<line x1="915.4" y1="825.4" x2="915.4" y2="833.4" stroke="#000" stroke-width="1.5"/>
<text x="915.4" y="860.3" font-size="26.5" fill="#000" text-anchor="middle">500</text>
<line x1="1007.7" y1="825.4" x2="1007.7" y2="833.4" stroke="#000" stroke-width="1.5"/>
<text x="1007.7" y="860.3" font-size="26.5" fill="#000" text-anchor="middle">550</text>
<line x1="1100" y1="825.4" x2="1100" y2="833.4" stroke="#000" stroke-width="1.5"/>
<text x="1100" y="860.3" font-size="26.5" fill="#000" text-anchor="middle">600</text>
<line x1="1192.3" y1="825.4" x2="1192.3" y2="833.4" stroke="#000" stroke-width="1.5"/>
<text x="1192.3" y="860.3" font-size="26.5" fill="#000" text-anchor="middle">650</text>
<line x1="223.15" y1="825.4" x2="223.15" y2="829.4" stroke="#000" stroke-width="1.5"/>
<line x1="315.45" y1="825.4" x2="315.45" y2="829.4" stroke="#000" stroke-width="1.5"/>
<line x1="407.75" y1="825.4" x2="407.75" y2="829.4" stroke="#000" stroke-width="1.5"/>
<line x1="500.05" y1="825.4" x2="500.05" y2="829.4" stroke="#000" stroke-width="1.5"/>
<line x1="592.35" y1="825.4" x2="592.35" y2="829.4" stroke="#000" stroke-width="1.5"/>
<line x1="684.65" y1="825.4" x2="684.65" y2="829.4" stroke="#000" stroke-width="1.5"/>
<line x1="776.95" y1="825.4" x2="776.95" y2="829.4" stroke="#000" stroke-width="1.5"/>
<line x1="869.25" y1="825.4" x2="869.25" y2="829.4" stroke="#000" stroke-width="1.5"/>
<line x1="961.55" y1="825.4" x2="961.55" y2="829.4" stroke="#000" stroke-width="1.5"/>
<line x1="1053.85" y1="825.4" x2="1053.85" y2="829.4" stroke="#000" stroke-width="1.5"/>
<line x1="1146.15" y1="825.4" x2="1146.15" y2="829.4" stroke="#000" stroke-width="1.5"/>
<text x="665.6" y="893.6" font-size="31.8" fill="#000" text-anchor="middle">Temperature/°C</text>
<text x="122.5" y="657" font-size="32.5" fill="#000" text-anchor="middle" transform="rotate(-90 122.5 657)">NH<tspan dy="8.45" font-size="21.45">3</tspan><tspan dy="-8.45"> Conversion/%</tspan></text>
<text x="87" y="481.5" font-size="40" fill="#000" font-weight="bold">c</text>
<rect x="113.5" y="932.9" width="483.8" height="352.2" fill="url(#gd)"/>
<rect x="126.3" y="982.24" width="21.6" height="302.86" fill="#ea9c7b"/>
<rect x="147.9" y="1169.14" width="21.6" height="115.96" fill="#8b94b8"/>
<rect x="195.35" y="1078.72" width="21.6" height="206.38" fill="#ea9c7b"/>
<rect x="216.95" y="1121.08" width="21.6" height="164.02" fill="#8b94b8"/>
<rect x="264.4" y="1104" width="21.6" height="181.1" fill="#ea9c7b"/>
<rect x="286" y="1100.79" width="21.6" height="184.31" fill="#8b94b8"/>
<rect x="333.45" y="1112.18" width="21.6" height="172.92" fill="#ea9c7b"/>
<rect x="355.05" y="1080.5" width="21.6" height="204.6" fill="#8b94b8"/>
<rect x="402.5" y="1129.27" width="21.6" height="155.83" fill="#ea9c7b"/>
<rect x="424.1" y="1070.18" width="21.6" height="214.92" fill="#8b94b8"/>
<rect x="471.55" y="1142.8" width="21.6" height="142.3" fill="#ea9c7b"/>
<rect x="493.15" y="1062.34" width="21.6" height="222.76" fill="#8b94b8"/>
<rect x="540.6" y="1184.1" width="21.6" height="101" fill="#ea9c7b"/>
<rect x="562.2" y="1070.18" width="21.6" height="214.92" fill="#8b94b8"/>
<circle cx="148.5" cy="1254.82" r="7.4" fill="#4b5673"/>
<circle cx="217.55" cy="1153.07" r="7.4" fill="#4b5673"/>
<circle cx="286.6" cy="1097.23" r="7.4" fill="#4b5673"/>
<circle cx="355.65" cy="1028.38" r="7.4" fill="#4b5673"/>
<circle cx="424.7" cy="990.12" r="7.4" fill="#4b5673"/>
<circle cx="493.75" cy="957.23" r="7.4" fill="#4b5673"/>
<circle cx="562.8" cy="990.89" r="7.4" fill="#4b5673"/>
<text x="153" y="1040.3" font-size="27.2" fill="#ea9f80">NH<tspan dy="5.98" font-size="17.95">3</tspan><tspan dy="-5.98"> conv.</tspan></text>
<line x1="257" y1="1050.9" x2="171.3" y2="1050.9" stroke="#ea9c7b" stroke-width="1.6"/>
<path d="M155.3 1050.9 L175.3 1046.5 L175.3 1055.3 Z" fill="#ea9c7b"/>
<text x="396.5" y="1035.6" font-size="25" fill="#8c95bb">η<tspan dy="5" font-size="16.5">E-H2</tspan></text>
<line x1="441.4" y1="1055.3" x2="356.2" y2="1055.3" stroke="#8c94c0" stroke-width="1.6"/>
<path d="M341.8 1055.3 L359.8 1050.9 L359.8 1059.7 Z" fill="#8c94c0"/>
<line x1="508.4" y1="956.3" x2="573.6" y2="956.3" stroke="#4a5573" stroke-width="1.4"/>
<path d="M587.2 956.3 L570.2 952.1 L570.2 960.5 Z" fill="#4a5573"/>
<line x1="113.5" y1="932.9" x2="597.3" y2="932.9" stroke="#1e2a25" stroke-width="1.8"/>
<line x1="113.5" y1="932.9" x2="113.5" y2="1285.1" stroke="#eca98c" stroke-width="1.4"/>
<line x1="105.5" y1="1285.1" x2="113.5" y2="1285.1" stroke="#eca98c" stroke-width="1.4"/>
<line x1="113.5" y1="1285.1" x2="598" y2="1285.1" stroke="#1a1a1a" stroke-width="1.8"/>
<line x1="597.3" y1="932.9" x2="597.3" y2="1285.1" stroke="#52607c" stroke-width="1.5"/>
<text x="100.1" y="1294.3" font-size="27" fill="#eaa486" text-anchor="end">0</text>
<line x1="105.5" y1="1214" x2="113.5" y2="1214" stroke="#eca98c" stroke-width="1.4"/>
<text x="100.1" y="1223.1" font-size="27" fill="#eaa486" text-anchor="end">20</text>
<line x1="105.5" y1="1142.8" x2="113.5" y2="1142.8" stroke="#eca98c" stroke-width="1.4"/>
<text x="100.1" y="1151.9" font-size="27" fill="#eaa486" text-anchor="end">40</text>
<line x1="105.5" y1="1071.6" x2="113.5" y2="1071.6" stroke="#eca98c" stroke-width="1.4"/>
<text x="100.1" y="1080.7" font-size="27" fill="#eaa486" text-anchor="end">60</text>
<line x1="105.5" y1="1000.4" x2="113.5" y2="1000.4" stroke="#eca98c" stroke-width="1.4"/>
<text x="100.1" y="1009.5" font-size="27" fill="#eaa486" text-anchor="end">80</text>
<line x1="109" y1="1249.6" x2="113.5" y2="1249.6" stroke="#eca98c" stroke-width="1.3"/>
<line x1="109" y1="1178.4" x2="113.5" y2="1178.4" stroke="#eca98c" stroke-width="1.3"/>
<line x1="109" y1="1107.2" x2="113.5" y2="1107.2" stroke="#eca98c" stroke-width="1.3"/>
<line x1="109" y1="1036" x2="113.5" y2="1036" stroke="#eca98c" stroke-width="1.3"/>
<line x1="109" y1="964.8" x2="113.5" y2="964.8" stroke="#eca98c" stroke-width="1.3"/>
<line x1="597.3" y1="1246.4" x2="605.3" y2="1246.4" stroke="#52607c" stroke-width="1.5"/>
<text x="611.7" y="1255.1" font-size="26" fill="#54607b">0.2</text>
<line x1="597.3" y1="1169.9" x2="605.3" y2="1169.9" stroke="#52607c" stroke-width="1.5"/>
<text x="611.7" y="1178.6" font-size="26" fill="#54607b">0.3</text>
<line x1="597.3" y1="1093.4" x2="605.3" y2="1093.4" stroke="#52607c" stroke-width="1.5"/>
<text x="611.7" y="1102.1" font-size="26" fill="#54607b">0.4</text>
<line x1="597.3" y1="1016.9" x2="605.3" y2="1016.9" stroke="#52607c" stroke-width="1.5"/>
<text x="611.7" y="1025.6" font-size="26" fill="#54607b">0.5</text>
<line x1="597.3" y1="940.4" x2="605.3" y2="940.4" stroke="#52607c" stroke-width="1.5"/>
<text x="611.7" y="949.1" font-size="26" fill="#54607b">0.6</text>
<line x1="597.3" y1="1284.65" x2="601.8" y2="1284.65" stroke="#52607c" stroke-width="1.4"/>
<line x1="597.3" y1="1208.15" x2="601.8" y2="1208.15" stroke="#52607c" stroke-width="1.4"/>
<line x1="597.3" y1="1131.65" x2="601.8" y2="1131.65" stroke="#52607c" stroke-width="1.4"/>
<line x1="597.3" y1="1055.15" x2="601.8" y2="1055.15" stroke="#52607c" stroke-width="1.4"/>
<line x1="597.3" y1="978.65" x2="601.8" y2="978.65" stroke="#52607c" stroke-width="1.4"/>
<line x1="147.9" y1="1285.1" x2="147.9" y2="1293.1" stroke="#1a1a1a" stroke-width="1.5"/>
<text x="147.9" y="1319.6" font-size="26.5" fill="#000" text-anchor="middle">1.2</text>
<line x1="216.95" y1="1285.1" x2="216.95" y2="1293.1" stroke="#1a1a1a" stroke-width="1.5"/>
<text x="216.95" y="1319.6" font-size="26.5" fill="#000" text-anchor="middle">3</text>
<line x1="286" y1="1285.1" x2="286" y2="1293.1" stroke="#1a1a1a" stroke-width="1.5"/>
<text x="286" y="1319.6" font-size="26.5" fill="#000" text-anchor="middle">4.2</text>
<line x1="355.05" y1="1285.1" x2="355.05" y2="1293.1" stroke="#1a1a1a" stroke-width="1.5"/>
<text x="355.05" y="1319.6" font-size="26.5" fill="#000" text-anchor="middle">5.4</text>
<line x1="424.1" y1="1285.1" x2="424.1" y2="1293.1" stroke="#1a1a1a" stroke-width="1.5"/>
<text x="424.1" y="1319.6" font-size="26.5" fill="#000" text-anchor="middle">6.6</text>
<line x1="493.15" y1="1285.1" x2="493.15" y2="1293.1" stroke="#1a1a1a" stroke-width="1.5"/>
<text x="493.15" y="1319.6" font-size="26.5" fill="#000" text-anchor="middle">7.8</text>
<line x1="562.2" y1="1285.1" x2="562.2" y2="1293.1" stroke="#1a1a1a" stroke-width="1.5"/>
<text x="562.2" y="1319.6" font-size="26.5" fill="#000" text-anchor="middle">10.2</text>
<text x="356" y="1352.8" font-size="32" fill="#000" text-anchor="middle">WHSV(×10<tspan dy="-12.16" font-size="21.12">4</tspan><tspan dy="12.16"> mL g</tspan><tspan dy="-12.16" font-size="21.12">-1</tspan><tspan dx="3" dy="20.8" font-size="21.12">cat.</tspan><tspan dy="-8.64"> h</tspan><tspan dy="-12.16" font-size="21.12">-1</tspan><tspan dy="12.16">)</tspan></text>
<text x="60" y="1121" font-size="30.7" fill="#000" text-anchor="middle" transform="rotate(-90 60 1121)">Efficiency/%</text>
<text x="673.5" y="1113.5" font-size="28.2" fill="#000" text-anchor="middle" transform="rotate(-90 673.5 1113.5)">H<tspan dy="6.2" font-size="18.61">2</tspan><tspan dy="-6.2"> production rate (mmol g</tspan><tspan dy="-10.72" font-size="18.61">-1</tspan><tspan dy="10.72"> </tspan><tspan dy="7.61" font-size="18.61">cat.</tspan><tspan dy="-7.61"> s</tspan><tspan dy="-10.72" font-size="18.61">-1</tspan><tspan dy="10.72">)</tspan></text>
<text x="41" y="949.5" font-size="40" fill="#000" font-weight="bold">d</text>
<rect x="798.4" y="935.4" width="460.8" height="347.6" fill="#f5f5f3"/>
<rect x="818.6" y="935.4" width="13.2" height="347.6" fill="#c4c8e0"/>
<rect x="901" y="935.4" width="11.5" height="347.6" fill="#c4c8e0"/>
<rect x="930.3" y="935.4" width="15.8" height="347.6" fill="#c4c8e0"/>
<rect x="1227.8" y="935.4" width="7.1" height="347.6" fill="#c4c8e0"/>
<g fill="#4c5468"><circle cx="800.73" cy="990.4" r="3"/><circle cx="802.83" cy="990.9" r="3"/><circle cx="804.92" cy="990.4" r="3"/><circle cx="807.02" cy="990.4" r="3"/><circle cx="809.12" cy="990.9" r="3"/><circle cx="811.22" cy="990.76" r="3"/><circle cx="813.31" cy="991.12" r="3"/><circle cx="815.41" cy="991.98" r="3"/><circle cx="817.51" cy="991.84" r="3"/><circle cx="819.6" cy="992.2" r="3"/><circle cx="831.4" cy="1005.8" r="3"/><circle cx="833.2" cy="994.2" r="3"/><circle cx="834.8" cy="992.8" r="3"/><circle cx="836.8" cy="992.2" r="3"/><circle cx="838.8" cy="992.6" r="3"/><circle cx="841" cy="992" r="3"/><circle cx="843.2" cy="991.4" r="3"/><circle cx="845.2" cy="991" r="3"/><circle cx="846.8" cy="991.2" r="3"/><circle cx="889.2" cy="987.6" r="3"/><circle cx="890.4" cy="988.6" r="3"/><circle cx="891.8" cy="989.6" r="3"/><circle cx="893" cy="990.8" r="3"/><circle cx="894.4" cy="991.8" r="3"/><circle cx="895.6" cy="990.6" r="3"/><circle cx="896.8" cy="989" r="3"/><circle cx="898" cy="987.4" r="3"/><circle cx="899.4" cy="985.6" r="3"/><circle cx="900.8" cy="984" r="3"/><circle cx="912.6" cy="992.8" r="3"/><circle cx="915.4" cy="985.2" r="3"/><circle cx="917.2" cy="985.2" r="3"/><circle cx="919" cy="985.2" r="3"/><circle cx="920.8" cy="985.8" r="3"/><circle cx="922.6" cy="985.8" r="3"/><circle cx="924.4" cy="985.2" r="3"/><circle cx="926.2" cy="985.2" r="3"/><circle cx="928" cy="985.8" r="3"/><circle cx="929.8" cy="985.2" r="3"/><circle cx="945" cy="1002.4" r="3"/><circle cx="945.4" cy="999.6" r="3"/><circle cx="945.8" cy="997" r="3"/><circle cx="946.4" cy="994.6" r="3"/><circle cx="947.2" cy="992.4" r="3"/><circle cx="948.4" cy="990.4" r="3"/><circle cx="950" cy="988.8" r="3"/><circle cx="951.8" cy="987.6" r="3"/><circle cx="954" cy="987" r="3"/><circle cx="956.4" cy="987.4" r="3"/><circle cx="958.4" cy="986.4" r="3"/><circle cx="960.4" cy="986.2" r="3"/><circle cx="1000.5" cy="990.7" r="3"/><circle cx="1002.6" cy="989" r="3"/><circle cx="1006.7" cy="985.5" r="3"/><circle cx="1008.3" cy="984.8" r="3"/><circle cx="1012" cy="979.2" r="3"/><circle cx="1015.1" cy="977.1" r="3"/><circle cx="1018.2" cy="975.6" r="3"/><circle cx="1020.3" cy="974.6" r="3"/><circle cx="1027" cy="975.4" r="3"/><circle cx="1034.4" cy="976.5" r="3"/><circle cx="1036.5" cy="978.5" r="3"/><circle cx="1040.6" cy="980.6" r="3"/><circle cx="1053.8" cy="980.8" r="3"/><circle cx="1055.9" cy="981.5" r="3"/><circle cx="1113.5" cy="982.7" r="3"/><circle cx="1118.7" cy="981.3" r="3"/><circle cx="1121.8" cy="980.8" r="3"/><circle cx="1125.6" cy="979.2" r="3"/><circle cx="1129.2" cy="975.6" r="3"/><circle cx="1136.9" cy="976.5" r="3"/><circle cx="1143.8" cy="979" r="3"/><circle cx="1146.9" cy="977.7" r="3"/><circle cx="1150.1" cy="976.5" r="3"/><circle cx="1155.9" cy="981.7" r="3"/><circle cx="1160.5" cy="981.3" r="3"/><circle cx="1167.4" cy="979.8" r="3"/><circle cx="1226" cy="981.3" r="3"/><circle cx="1227.9" cy="982.7" r="3"/><circle cx="1235.9" cy="984.8" r="3"/><circle cx="1234.8" cy="992.4" r="3"/><circle cx="1240.5" cy="973.5" r="3"/><circle cx="1244.2" cy="972.5" r="3"/><circle cx="1247.8" cy="972.5" r="3"/><circle cx="1250.5" cy="972.1" r="3"/><circle cx="1254.1" cy="971.2" r="3"/><circle cx="1257.8" cy="971.8" r="3"/></g>
<text x="825.3" y="1030.5" font-size="13" fill="#111" text-anchor="middle">EF</text>
<text x="825.3" y="1047.3" font-size="13" fill="#111" text-anchor="middle">OFF</text>
<text x="906.5" y="1030.5" font-size="13" fill="#111" text-anchor="middle">EF</text>
<text x="906.5" y="1047.3" font-size="13" fill="#111" text-anchor="middle">OFF</text>
<text x="938.9" y="1030.5" font-size="13" fill="#111" text-anchor="middle">EF</text>
<text x="938.9" y="1047.3" font-size="13" fill="#111" text-anchor="middle">OFF</text>
<text x="1233.2" y="1030.5" font-size="13" fill="#111" text-anchor="middle">EF</text>
<text x="1233.2" y="1047.3" font-size="13" fill="#111" text-anchor="middle">OFF</text>
<text x="808.6" y="1067.7" font-size="13" fill="#111" text-anchor="middle">EF</text>
<text x="808.6" y="1084.3" font-size="13" fill="#111" text-anchor="middle">ON</text>
<text x="864.2" y="1067.7" font-size="13" fill="#111" text-anchor="middle">EF</text>
<text x="864.2" y="1084.3" font-size="13" fill="#111" text-anchor="middle">ON</text>
<text x="921.6" y="1067.7" font-size="13" fill="#111" text-anchor="middle">EF</text>
<text x="921.6" y="1084.3" font-size="13" fill="#111" text-anchor="middle">ON</text>
<text x="1246.6" y="1067.7" font-size="13" fill="#111" text-anchor="middle">EF</text>
<text x="1246.6" y="1084.3" font-size="13" fill="#111" text-anchor="middle">ON</text>
<text x="1087.7" y="959.9" font-size="13" fill="#111" text-anchor="middle">EF</text>
<text x="1087.7" y="976.1" font-size="13" fill="#111" text-anchor="middle">ON</text>
<line x1="775.6" y1="935.4" x2="1266" y2="935.4" stroke="#111" stroke-width="1.6"/>
<line x1="783.6" y1="935.4" x2="783.6" y2="1283.8" stroke="#000" stroke-width="1.7"/>
<line x1="775.6" y1="1283" x2="1266" y2="1283" stroke="#000" stroke-width="1.7"/>
<line x1="1265.2" y1="935.4" x2="1265.2" y2="1291" stroke="#111" stroke-width="1.6"/>
<line x1="775.6" y1="1282.3" x2="783.6" y2="1282.3" stroke="#000" stroke-width="1.5"/>
<text x="770" y="1291.3" font-size="26.3" fill="#000" text-anchor="end">0</text>
<line x1="775.6" y1="1212.98" x2="783.6" y2="1212.98" stroke="#000" stroke-width="1.5"/>
<text x="770" y="1221.98" font-size="26.3" fill="#000" text-anchor="end">20</text>
<line x1="775.6" y1="1143.66" x2="783.6" y2="1143.66" stroke="#000" stroke-width="1.5"/>
<text x="770" y="1152.66" font-size="26.3" fill="#000" text-anchor="end">40</text>
<line x1="775.6" y1="1074.34" x2="783.6" y2="1074.34" stroke="#000" stroke-width="1.5"/>
<text x="770" y="1083.34" font-size="26.3" fill="#000" text-anchor="end">60</text>
<line x1="775.6" y1="1005.02" x2="783.6" y2="1005.02" stroke="#000" stroke-width="1.5"/>
<text x="770" y="1014.02" font-size="26.3" fill="#000" text-anchor="end">80</text>
<line x1="775.6" y1="935.7" x2="783.6" y2="935.7" stroke="#000" stroke-width="1.5"/>
<text x="770" y="944.7" font-size="26.3" fill="#000" text-anchor="end">100</text>
<line x1="779.6" y1="1247.64" x2="783.6" y2="1247.64" stroke="#000" stroke-width="1.5"/>
<line x1="779.6" y1="1178.32" x2="783.6" y2="1178.32" stroke="#000" stroke-width="1.5"/>
<line x1="779.6" y1="1109" x2="783.6" y2="1109" stroke="#000" stroke-width="1.5"/>
<line x1="779.6" y1="1039.68" x2="783.6" y2="1039.68" stroke="#000" stroke-width="1.5"/>
<line x1="779.6" y1="970.36" x2="783.6" y2="970.36" stroke="#000" stroke-width="1.5"/>
<line x1="798.4" y1="1283" x2="798.4" y2="1291" stroke="#000" stroke-width="1.5"/>
<text x="798.4" y="1318" font-size="26.3" fill="#000" text-anchor="middle">0</text>
<line x1="845" y1="1283" x2="845" y2="1291" stroke="#000" stroke-width="1.5"/>
<text x="845" y="1318" font-size="26.3" fill="#000" text-anchor="middle">10</text>
<line x1="891.6" y1="1283" x2="891.6" y2="1291" stroke="#000" stroke-width="1.5"/>
<text x="891.6" y="1318" font-size="26.3" fill="#000" text-anchor="middle">20</text>
<line x1="938.2" y1="1283" x2="938.2" y2="1291" stroke="#000" stroke-width="1.5"/>
<text x="938.2" y="1318" font-size="26.3" fill="#000" text-anchor="middle">30</text>
<line x1="984.8" y1="1283" x2="984.8" y2="1291" stroke="#000" stroke-width="1.5"/>
<text x="984.8" y="1318" font-size="26.3" fill="#000" text-anchor="middle">40</text>
<line x1="1031.4" y1="1283" x2="1031.4" y2="1291" stroke="#000" stroke-width="1.5"/>
<text x="1031.4" y="1318" font-size="26.3" fill="#000" text-anchor="middle">50</text>
<line x1="1078" y1="1283" x2="1078" y2="1291" stroke="#000" stroke-width="1.5"/>
<text x="1078" y="1318" font-size="26.3" fill="#000" text-anchor="middle">60</text>
<line x1="1124.6" y1="1283" x2="1124.6" y2="1291" stroke="#000" stroke-width="1.5"/>
<text x="1124.6" y="1318" font-size="26.3" fill="#000" text-anchor="middle">70</text>
<line x1="1171.2" y1="1283" x2="1171.2" y2="1291" stroke="#000" stroke-width="1.5"/>
<text x="1171.2" y="1318" font-size="26.3" fill="#000" text-anchor="middle">80</text>
<line x1="1217.8" y1="1283" x2="1217.8" y2="1291" stroke="#000" stroke-width="1.5"/>
<text x="1217.8" y="1318" font-size="26.3" fill="#000" text-anchor="middle">90</text>
<line x1="1264.4" y1="1283" x2="1264.4" y2="1291" stroke="#000" stroke-width="1.5"/>
<text x="1264.4" y="1318" font-size="26.3" fill="#000" text-anchor="middle">100</text>
<line x1="821.7" y1="1283" x2="821.7" y2="1287" stroke="#000" stroke-width="1.4"/>
<line x1="868.3" y1="1283" x2="868.3" y2="1287" stroke="#000" stroke-width="1.4"/>
<line x1="914.9" y1="1283" x2="914.9" y2="1287" stroke="#000" stroke-width="1.4"/>
<line x1="961.5" y1="1283" x2="961.5" y2="1287" stroke="#000" stroke-width="1.4"/>
<line x1="1008.1" y1="1283" x2="1008.1" y2="1287" stroke="#000" stroke-width="1.4"/>
<line x1="1054.7" y1="1283" x2="1054.7" y2="1287" stroke="#000" stroke-width="1.4"/>
<line x1="1101.3" y1="1283" x2="1101.3" y2="1287" stroke="#000" stroke-width="1.4"/>
<line x1="1147.9" y1="1283" x2="1147.9" y2="1287" stroke="#000" stroke-width="1.4"/>
<line x1="1194.5" y1="1283" x2="1194.5" y2="1287" stroke="#000" stroke-width="1.4"/>
<line x1="1241.1" y1="1283" x2="1241.1" y2="1287" stroke="#000" stroke-width="1.4"/>
<text x="1034.5" y="1349.5" font-size="32" fill="#000" text-anchor="middle">Time/h</text>
<text x="729.5" y="1108.5" font-size="32.5" fill="#000" text-anchor="middle" transform="rotate(-90 729.5 1108.5)">NH<tspan dy="8.45" font-size="21.45">3</tspan><tspan dy="-8.45"> Conversion/%</tspan></text>
<text x="704" y="926.5" font-size="39.5" fill="#000" font-weight="bold">e</text>
<rect x="963.8" y="1003.3" width="256.1" height="177.3" fill="#f9f9f8"/>
<line x1="1046.07" y1="1004.3" x2="1046.07" y2="1180.6" stroke="#f5d3a0" stroke-width="0.7" opacity="0.95"/>
<line x1="1123.86" y1="1039.8" x2="1123.86" y2="1180.6" stroke="#f5d3a0" stroke-width="0.7" opacity="0.95"/>
<line x1="1162.27" y1="1039.8" x2="1162.27" y2="1180.6" stroke="#f5d3a0" stroke-width="0.7" opacity="0.95"/>
<line x1="1064.32" y1="1039.8" x2="1064.32" y2="1180.6" stroke="#f7ead8" stroke-width="0.7" opacity="0.9"/>
<line x1="1173.8" y1="1039.8" x2="1173.8" y2="1180.6" stroke="#f7ead8" stroke-width="0.7" opacity="0.9"/>
<line x1="1078.4" y1="1039.8" x2="1078.4" y2="1180.6" stroke="#e3ecf5" stroke-width="0.7" opacity="0.9"/>
<line x1="1146.27" y1="1039.8" x2="1146.27" y2="1180.6" stroke="#74d0da" stroke-width="0.8" opacity="0.95" stroke-dasharray="1.2 1.4"/>
<line x1="1021.42" y1="1162" x2="1021.42" y2="1180.6" stroke="#f3e2a8" stroke-width="0.9"/>
<line x1="1106.25" y1="1162" x2="1106.25" y2="1180.6" stroke="#f6ecd8" stroke-width="0.8"/>
<line x1="1072.32" y1="1162" x2="1072.32" y2="1180.6" stroke="#3a4363" stroke-width="1.3"/>
<line x1="1146.27" y1="1162" x2="1146.27" y2="1180.6" stroke="#4aa3e0" stroke-width="1.3"/>
<polyline points="963.8,1081.97 964.2,1082.41 964.6,1081.94 965,1081.86 965.4,1081.47 965.8,1081.88 966.2,1082.65 966.6,1082.21 967,1082.55 967.4,1082.06 967.8,1082.12 968.2,1081.97 968.6,1080.84 969,1082.33 969.4,1082.11 969.8,1082.08 970.2,1080.75 970.6,1080.7 971,1081.2 971.4,1081.44 971.8,1081.89 972.2,1081.67 972.6,1082 973,1081.29 973.4,1081.85 973.8,1081.9 974.2,1081.26 974.6,1082.69 975,1081.99 975.4,1082.38 975.8,1081.3 976.2,1081.23 976.6,1081.48 977,1081.63 977.41,1082.09 977.81,1081.87 978.21,1081.47 978.61,1081.18 979.01,1081.46 979.41,1082.53 979.81,1081.34 980.21,1081.99 980.61,1082.13 981.01,1081.01 981.41,1081.96 981.81,1082.75 982.21,1080.79 982.61,1081.84 983.01,1082 983.41,1081.61 983.81,1082.44 984.21,1082.14 984.61,1081.33 985.01,1082.75 985.41,1082.69 985.81,1082.9 986.21,1083.24 986.61,1082.63 987.01,1082.53 987.41,1081.72 987.81,1082.91 988.21,1082.21 988.61,1082.35 989.01,1081.9 989.41,1082.12 989.81,1082.42 990.21,1083.55 990.61,1081.59 991.01,1081.97 991.41,1083.03 991.81,1083.79 992.21,1083.3 992.61,1081.85 993.01,1081.51 993.41,1083.27 993.81,1082.64 994.21,1082.44 994.61,1083.72 995.01,1083.82 995.41,1083.28 995.81,1083.36 996.21,1083.5 996.61,1084.21 997.01,1083.65 997.41,1083.6 997.81,1083.64 998.21,1082.39 998.61,1084.11 999.01,1083.93 999.41,1083.68 999.81,1082.19 1000.21,1083 1000.61,1083.9 1001.01,1082.31 1001.41,1083.29 1001.81,1084.02 1002.21,1082.62 1002.61,1084.38 1003.01,1083.74 1003.41,1083.32 1003.81,1083.6 1004.22,1083.79 1004.62,1083.47 1005.02,1084.08 1005.42,1082.99 1005.82,1083.12 1006.22,1083.99 1006.62,1083.37 1007.02,1082.81 1007.42,1083.89 1007.82,1084.19 1008.22,1083.03 1008.62,1082.45 1009.02,1083.18 1009.42,1083.15 1009.82,1083.05 1010.22,1084.05 1010.62,1082.57 1011.02,1083.92 1011.42,1082.37 1011.82,1082.64 1012.22,1083.46 1012.62,1083.73 1013.02,1083.54 1013.42,1083.21 1013.82,1083.06 1014.22,1083.03 1014.62,1083.25 1015.02,1082.77 1015.42,1083.01 1015.82,1083.15 1016.22,1082.77 1016.62,1083.19 1017.02,1083.04 1017.42,1083.86 1017.82,1082.81 1018.22,1082.32 1018.62,1082.31 1019.02,1082.49 1019.42,1083.01 1019.82,1082.21 1020.22,1082.6 1020.62,1083.42 1021.02,1080.74 1021.42,1081.55 1021.82,1082.33 1022.22,1082.37 1022.62,1082.23 1023.02,1081.77 1023.42,1082.38 1023.82,1082.1 1024.22,1081.57 1024.62,1083.28 1025.02,1081.99 1025.42,1081.39 1025.82,1081.6 1026.22,1081.47 1026.62,1081.51 1027.02,1079.86 1027.42,1081.14 1027.82,1081.98 1028.22,1080.62 1028.62,1081.22 1029.02,1081.77 1029.42,1081.65 1029.82,1081.96 1030.22,1079.98 1030.63,1080.72 1031.03,1080.66 1031.43,1081.17 1031.83,1081.37 1032.23,1079.03 1032.63,1081.22 1033.03,1079.61 1033.43,1080.8 1033.83,1079.4 1034.23,1080.3 1034.63,1080.8 1035.03,1079.87 1035.43,1079.94 1035.83,1080.14 1036.23,1079.56 1036.63,1079.2 1037.03,1079.89 1037.43,1079.23 1037.83,1077.91 1038.23,1078.96 1038.63,1075.36 1039.03,1074.53 1039.43,1071.16 1039.83,1070.67 1040.23,1072.73 1040.63,1073.81 1041.03,1074.42 1041.43,1072.72 1041.83,1071.77 1042.23,1071.63 1042.63,1069.03 1043.03,1067.49 1043.43,1066.16 1043.83,1066.9 1044.23,1064.91 1044.63,1061.5 1045.03,1051.72 1045.43,1035.21 1045.83,1008.51 1046.23,1005.78 1046.63,1032.21 1047.03,1050.81 1047.43,1062.86 1047.83,1068.09 1048.23,1070.54 1048.63,1071.33 1049.03,1074.5 1049.43,1074.3 1049.83,1074.42 1050.23,1075.24 1050.63,1075.32 1051.03,1075.95 1051.43,1074.35 1051.83,1075.52 1052.23,1075.6 1052.63,1075.5 1053.03,1074.5 1053.43,1074.23 1053.83,1075.46 1054.23,1075.19 1054.63,1075.55 1055.03,1076.73 1055.43,1076.15 1055.83,1075.38 1056.23,1076.95 1056.63,1076.48 1057.03,1078.46 1057.44,1078.51 1057.84,1078.26 1058.24,1078.91 1058.64,1079.67 1059.04,1079.45 1059.44,1080.4 1059.84,1079.75 1060.24,1080.57 1060.64,1080.97 1061.04,1081.14 1061.44,1079.84 1061.84,1080.8 1062.24,1079.11 1062.64,1079.44 1063.04,1078.6 1063.44,1079.83 1063.84,1077.58 1064.24,1077.68 1064.64,1078.02 1065.04,1079.2 1065.44,1079.78 1065.84,1080.88 1066.24,1082.22 1066.64,1081.45 1067.04,1081.95 1067.44,1082.39 1067.84,1081.8 1068.24,1081.27 1068.64,1081.78 1069.04,1082.84 1069.44,1081.27 1069.84,1081.96 1070.24,1082.96 1070.64,1082.87 1071.04,1082.42 1071.44,1082.91 1071.84,1082.53 1072.24,1081.7 1072.64,1081.44 1073.04,1081.94 1073.44,1082.8 1073.84,1081.81 1074.24,1081.48 1074.64,1081.4 1075.04,1080.75 1075.44,1081.39 1075.84,1080.51 1076.24,1081.2 1076.64,1079.34 1077.04,1080.79 1077.44,1080.12 1077.84,1079.37 1078.24,1081.11 1078.64,1080.75 1079.04,1079.89 1079.44,1081.06 1079.84,1082.12 1080.24,1082.02 1080.64,1083.09 1081.04,1083.37 1081.44,1083.59 1081.84,1083.63 1082.24,1084.45 1082.64,1084.23 1083.04,1084.28 1083.44,1082.91 1083.85,1084.83 1084.25,1085.2 1084.65,1084.35 1085.05,1084.35 1085.45,1085.89 1085.85,1083.76 1086.25,1085.18 1086.65,1086.43 1087.05,1084.49 1087.45,1085.53 1087.85,1086.31 1088.25,1085.17 1088.65,1085.63 1089.05,1085.89 1089.45,1084.86 1089.85,1085.4 1090.25,1085.67 1090.65,1086.04 1091.05,1085.57 1091.45,1085.51 1091.85,1085.06 1092.25,1085.49 1092.65,1086.28 1093.05,1085.84 1093.45,1085.3 1093.85,1085.34 1094.25,1087.48 1094.65,1086.59 1095.05,1086.32 1095.45,1084.41 1095.85,1086.37 1096.25,1086.31 1096.65,1087.06 1097.05,1086.33 1097.45,1086.06 1097.85,1086.44 1098.25,1084.98 1098.65,1086.79 1099.05,1086.39 1099.45,1085.79 1099.85,1087.03 1100.25,1087.34 1100.65,1085.43 1101.05,1085.89 1101.45,1086.49 1101.85,1086.44 1102.25,1086.11 1102.65,1085.78 1103.05,1087.65 1103.45,1087.02 1103.85,1085.69 1104.25,1085.62 1104.65,1087.46 1105.05,1087.05 1105.45,1087.56 1105.85,1086.96 1106.25,1085.97 1106.65,1086.66 1107.05,1085.22 1107.45,1086.07 1107.85,1086.5 1108.25,1086.85 1108.65,1086.11 1109.05,1086.48 1109.45,1086.84 1109.85,1086.8 1110.25,1086.96 1110.66,1086.7 1111.06,1086.39 1111.46,1087.06 1111.86,1086.62 1112.26,1086.09 1112.66,1086.21 1113.06,1086.58 1113.46,1086.51 1113.86,1086.66 1114.26,1086.56 1114.66,1086.65 1115.06,1086.44 1115.46,1085.75 1115.86,1086.73 1116.26,1087.08 1116.66,1086.66 1117.06,1086.24 1117.46,1086.56 1117.86,1085.64 1118.26,1084.99 1118.66,1086.04 1119.06,1085.3 1119.46,1086.11 1119.86,1084.77 1120.26,1083.5 1120.66,1084 1121.06,1084.92 1121.46,1082.79 1121.86,1080.74 1122.26,1078.77 1122.66,1075.65 1123.06,1069.16 1123.46,1059.91 1123.86,1055.27 1124.26,1060.24 1124.66,1068.87 1125.06,1075.73 1125.46,1080.27 1125.86,1082.2 1126.26,1083.71 1126.66,1083.41 1127.06,1084.63 1127.46,1085.63 1127.86,1085.36 1128.26,1086.45 1128.66,1086.36 1129.06,1086.71 1129.46,1086.17 1129.86,1087.92 1130.26,1087.22 1130.66,1086.42 1131.06,1086.66 1131.46,1088.21 1131.86,1086.48 1132.26,1087.24 1132.66,1087.33 1133.06,1086.76 1133.46,1086.07 1133.86,1086.89 1134.26,1087 1134.66,1087.46 1135.06,1087.24 1135.46,1086.77 1135.86,1087.25 1136.26,1087.04 1136.66,1086.81 1137.06,1086.69 1137.47,1086.46 1137.87,1086.97 1138.27,1085.86 1138.67,1086.04 1139.07,1086.34 1139.47,1085.35 1139.87,1085.85 1140.27,1084.76 1140.67,1085.39 1141.07,1085.94 1141.47,1085.7 1141.87,1085.05 1142.27,1084.61 1142.67,1083.5 1143.07,1084.98 1143.47,1083.65 1143.87,1083.37 1144.27,1081.49 1144.67,1081.17 1145.07,1079.47 1145.47,1080.4 1145.87,1080.07 1146.27,1078.22 1146.67,1079.49 1147.07,1080.35 1147.47,1079.56 1147.87,1080.27 1148.27,1081.48 1148.67,1082.46 1149.07,1082.64 1149.47,1084.06 1149.87,1084.68 1150.27,1085.33 1150.67,1085.72 1151.07,1086.5 1151.47,1086.55 1151.87,1085.28 1152.27,1085.95 1152.67,1085.77 1153.07,1085.9 1153.47,1086.61 1153.87,1086.76 1154.27,1087.14 1154.67,1085.96 1155.07,1086.23 1155.47,1087 1155.87,1086.93 1156.27,1086.88 1156.67,1087.03 1157.07,1086.6 1157.47,1087.44 1157.87,1087.18 1158.27,1086.82 1158.67,1086.33 1159.07,1086.43 1159.47,1084.59 1159.87,1085.16 1160.27,1085.03 1160.67,1082.86 1161.07,1081.7 1161.47,1077.74 1161.87,1070.7 1162.27,1067.29 1162.67,1071.38 1163.07,1078.02 1163.47,1082.08 1163.88,1083.92 1164.28,1084.73 1164.68,1085.95 1165.08,1086.52 1165.48,1087.36 1165.88,1087.35 1166.28,1086.93 1166.68,1086.7 1167.08,1087.41 1167.48,1087.28 1167.88,1087.13 1168.28,1087.79 1168.68,1087.62 1169.08,1088.02 1169.48,1088.31 1169.88,1087.77 1170.28,1089.44 1170.68,1087.86 1171.08,1088.71 1171.48,1088.1 1171.88,1088.64 1172.28,1086.44 1172.68,1087.21 1173.08,1087.42 1173.48,1087.07 1173.88,1087.89 1174.28,1087.18 1174.68,1088.31 1175.08,1088.35 1175.48,1088.66 1175.88,1088.52 1176.28,1088.2 1176.68,1088.66 1177.08,1087.76 1177.48,1089.15 1177.88,1087.86 1178.28,1088.65 1178.68,1089.79 1179.08,1088.41 1179.48,1088.57 1179.88,1089.28 1180.28,1088.61 1180.68,1088.13 1181.08,1088.79 1181.48,1089 1181.88,1089.09 1182.28,1088.22 1182.68,1089.75 1183.08,1089.71 1183.48,1088.73 1183.88,1088.9 1184.28,1088.49 1184.68,1089.61 1185.08,1088.35 1185.48,1089.19 1185.88,1088.52 1186.28,1088.4 1186.68,1089.26 1187.08,1089.64 1187.48,1088.85 1187.88,1088.46 1188.28,1089.37 1188.68,1088.86 1189.08,1089.09 1189.48,1089.83 1189.88,1089.61 1190.28,1088.63 1190.69,1090.32 1191.09,1088.97 1191.49,1089.45 1191.89,1088.6 1192.29,1088.97 1192.69,1087.96 1193.09,1090.1 1193.49,1089.86 1193.89,1088.32 1194.29,1088.16 1194.69,1088.1 1195.09,1089.79 1195.49,1088.82 1195.89,1089.07 1196.29,1088.93 1196.69,1089.06 1197.09,1088.49 1197.49,1089.17 1197.89,1088.3 1198.29,1089.13 1198.69,1089.37 1199.09,1089.48 1199.49,1089.07 1199.89,1088.68 1200.29,1089.33 1200.69,1088.95 1201.09,1090.19 1201.49,1089.73 1201.89,1089.21 1202.29,1089.01 1202.69,1088.88 1203.09,1088.75 1203.49,1089.11 1203.89,1089.51 1204.29,1089.65 1204.69,1089.7 1205.09,1090.63 1205.49,1088.95 1205.89,1089.4 1206.29,1091.08 1206.69,1088.29 1207.09,1089.11 1207.49,1089.53 1207.89,1089.54 1208.29,1089.7 1208.69,1089.32 1209.09,1089.7 1209.49,1089.52 1209.89,1089.96 1210.29,1088.37 1210.69,1088.99 1211.09,1089.53 1211.49,1088.92 1211.89,1088.93 1212.29,1089.94 1212.69,1089.19 1213.09,1089.97 1213.49,1090.05 1213.89,1089.79 1214.29,1089.92 1214.69,1089.57 1215.09,1088.8 1215.49,1089.63 1215.89,1089.94 1216.29,1089.36 1216.69,1089.63 1217.09,1090.15 1217.5,1089.18 1217.9,1090.1 1218.3,1090.85 1218.7,1089.41 1219.1,1089.84 1219.5,1089.67 1219.9,1090.7" fill="none" stroke="#e3cbe0" stroke-width="1.7" stroke-linejoin="round"/>
<polyline points="963.8,1148.25 964.2,1148.53 964.6,1147.71 965,1148.03 965.4,1148.02 965.8,1147.12 966.2,1148.71 966.6,1148.42 967,1147.08 967.4,1148.31 967.8,1147.85 968.2,1148.13 968.6,1148.07 969,1147.12 969.4,1147.75 969.8,1148.59 970.2,1147.54 970.6,1147.3 971,1147.12 971.4,1147.18 971.8,1147.94 972.2,1148.61 972.6,1147.97 973,1147.87 973.4,1148.85 973.8,1147.47 974.2,1147.39 974.6,1147.98 975,1147.99 975.4,1147.21 975.8,1147.13 976.2,1147.86 976.6,1147.83 977,1147.06 977.41,1147.61 977.81,1147.45 978.21,1147.95 978.61,1147.67 979.01,1147.69 979.41,1147.57 979.81,1148.28 980.21,1148.46 980.61,1147.59 981.01,1148.21 981.41,1147.42 981.81,1147.85 982.21,1148.2 982.61,1148.6 983.01,1147.67 983.41,1147.84 983.81,1147.99 984.21,1147.16 984.61,1147.93 985.01,1147.6 985.41,1148.15 985.81,1147.41 986.21,1147.01 986.61,1148.04 987.01,1148.17 987.41,1147.78 987.81,1148.52 988.21,1147.95 988.61,1147.81 989.01,1148.37 989.41,1147.36 989.81,1147.82 990.21,1148.17 990.61,1148.62 991.01,1148.13 991.41,1148.38 991.81,1147.92 992.21,1148.41 992.61,1149.11 993.01,1147.95 993.41,1149.48 993.81,1147.99 994.21,1148.33 994.61,1148.42 995.01,1148.86 995.41,1147.74 995.81,1147.32 996.21,1148.68 996.61,1148.78 997.01,1148.7 997.41,1149.71 997.81,1148.5 998.21,1148.53 998.61,1148.87 999.01,1148.59 999.41,1149.24 999.81,1147.79 1000.21,1148.22 1000.61,1146.69 1001.01,1148.82 1001.41,1148.22 1001.81,1148.87 1002.21,1149.48 1002.61,1148.4 1003.01,1148.27 1003.41,1148.14 1003.81,1147.96 1004.22,1148.06 1004.62,1148.69 1005.02,1148.38 1005.42,1148.38 1005.82,1148.25 1006.22,1148.79 1006.62,1148.56 1007.02,1148.23 1007.42,1148.62 1007.82,1148.2 1008.22,1147.69 1008.62,1148.98 1009.02,1148.47 1009.42,1147.74 1009.82,1148.74 1010.22,1148.36 1010.62,1147.38 1011.02,1148.95 1011.42,1148.29 1011.82,1148.55 1012.22,1148.18 1012.62,1147.99 1013.02,1147.27 1013.42,1148.5 1013.82,1148.01 1014.22,1147.82 1014.62,1148.12 1015.02,1147.95 1015.42,1148.22 1015.82,1147.67 1016.22,1147.8 1016.62,1146.72 1017.02,1147.54 1017.42,1148.05 1017.82,1148.33 1018.22,1147.43 1018.62,1147.49 1019.02,1148.27 1019.42,1147.23 1019.82,1147.63 1020.22,1147.92 1020.62,1146.8 1021.02,1146.85 1021.42,1144.79 1021.82,1143.45 1022.22,1142.97 1022.62,1144.79 1023.02,1146.48 1023.42,1147.66 1023.82,1146.4 1024.22,1146.58 1024.62,1147.18 1025.02,1146.43 1025.42,1147.22 1025.82,1147.25 1026.22,1146.81 1026.62,1147.19 1027.02,1146.12 1027.42,1147.24 1027.82,1146.06 1028.22,1146.44 1028.62,1146.47 1029.02,1146.51 1029.42,1147.1 1029.82,1146.66 1030.22,1146.37 1030.63,1146.79 1031.03,1147.26 1031.43,1146.42 1031.83,1146.54 1032.23,1146.91 1032.63,1146.36 1033.03,1145.51 1033.43,1147.32 1033.83,1147.1 1034.23,1144.91 1034.63,1145.78 1035.03,1145.89 1035.43,1146.03 1035.83,1145.72 1036.23,1145.05 1036.63,1144.42 1037.03,1144.67 1037.43,1144.7 1037.83,1143.01 1038.23,1142.05 1038.63,1140.9 1039.03,1137.16 1039.43,1134.42 1039.83,1133.52 1040.23,1136.64 1040.63,1138.32 1041.03,1139.16 1041.43,1139.41 1041.83,1138.93 1042.23,1137.51 1042.63,1136.47 1043.03,1135.56 1043.43,1134.89 1043.83,1134.38 1044.23,1131.68 1044.63,1128.48 1045.03,1120.11 1045.43,1107.26 1045.83,1083.01 1046.23,1079.95 1046.63,1103.09 1047.03,1119.86 1047.43,1130.09 1047.83,1134.76 1048.23,1136.63 1048.63,1139.33 1049.03,1140.78 1049.43,1139.86 1049.83,1141.56 1050.23,1141.44 1050.63,1141.63 1051.03,1141.58 1051.43,1141.92 1051.83,1141.04 1052.23,1141.46 1052.63,1140.73 1053.03,1141.27 1053.43,1140.55 1053.83,1141.04 1054.23,1142.18 1054.63,1141.83 1055.03,1141.87 1055.43,1141.74 1055.83,1142.29 1056.23,1143.14 1056.63,1143.85 1057.03,1143.91 1057.44,1144.25 1057.84,1144.22 1058.24,1145.15 1058.64,1144.48 1059.04,1144.58 1059.44,1145.46 1059.84,1145.19 1060.24,1145.13 1060.64,1145.07 1061.04,1145.3 1061.44,1145.78 1061.84,1145.65 1062.24,1144.81 1062.64,1145.48 1063.04,1145.05 1063.44,1143.92 1063.84,1144.02 1064.24,1142.91 1064.64,1143.26 1065.04,1144.75 1065.44,1145.79 1065.84,1145.3 1066.24,1146.19 1066.64,1145.76 1067.04,1147.51 1067.44,1146.22 1067.84,1147.15 1068.24,1146.3 1068.64,1147.09 1069.04,1147.84 1069.44,1145.49 1069.84,1146.57 1070.24,1147.05 1070.64,1146.76 1071.04,1146.47 1071.44,1147.86 1071.84,1146.8 1072.24,1145.9 1072.64,1147.09 1073.04,1145.74 1073.44,1147.08 1073.84,1146.11 1074.24,1146.33 1074.64,1146.73 1075.04,1145.97 1075.44,1145 1075.84,1144.61 1076.24,1145.82 1076.64,1145.38 1077.04,1144.43 1077.44,1145.18 1077.84,1145 1078.24,1145.17 1078.64,1143.91 1079.04,1145.15 1079.44,1146.04 1079.84,1146.26 1080.24,1146.62 1080.64,1145.22 1081.04,1146.78 1081.44,1147.16 1081.84,1148.38 1082.24,1146.8 1082.64,1147.26 1083.04,1147.57 1083.44,1148.11 1083.85,1147.55 1084.25,1148.44 1084.65,1147.55 1085.05,1148.15 1085.45,1147.82 1085.85,1148.23 1086.25,1147.86 1086.65,1147.46 1087.05,1148.85 1087.45,1148.5 1087.85,1148.11 1088.25,1148.53 1088.65,1148.96 1089.05,1148 1089.45,1148.47 1089.85,1148.82 1090.25,1148.84 1090.65,1148.44 1091.05,1147.58 1091.45,1149.27 1091.85,1148.84 1092.25,1148.7 1092.65,1148.57 1093.05,1148.86 1093.45,1148.54 1093.85,1148.25 1094.25,1148.41 1094.65,1148.5 1095.05,1148.5 1095.45,1148.24 1095.85,1149.15 1096.25,1148.19 1096.65,1149.18 1097.05,1148.36 1097.45,1149.05 1097.85,1149.57 1098.25,1148.99 1098.65,1148.53 1099.05,1148.93 1099.45,1148.98 1099.85,1148.04 1100.25,1148.61 1100.65,1148.99 1101.05,1148.67 1101.45,1148.94 1101.85,1149.26 1102.25,1149.27 1102.65,1149.32 1103.05,1149.13 1103.45,1148.65 1103.85,1148.73 1104.25,1148.5 1104.65,1148.33 1105.05,1148.15 1105.45,1146.98 1105.85,1147.15 1106.25,1147.01 1106.65,1146.83 1107.05,1147.83 1107.45,1148.51 1107.85,1148.42 1108.25,1149.69 1108.65,1147.45 1109.05,1148.71 1109.45,1147.95 1109.85,1149.38 1110.25,1150.24 1110.66,1147.67 1111.06,1149 1111.46,1149.2 1111.86,1148.79 1112.26,1149.21 1112.66,1147.81 1113.06,1149.35 1113.46,1149.11 1113.86,1148.92 1114.26,1148.6 1114.66,1149.2 1115.06,1148.61 1115.46,1148.94 1115.86,1148.55 1116.26,1147.64 1116.66,1148.71 1117.06,1148.78 1117.46,1148.99 1117.86,1148.1 1118.26,1148.44 1118.66,1148.65 1119.06,1148.28 1119.46,1148.65 1119.86,1148.8 1120.26,1147.04 1120.66,1146.12 1121.06,1146.93 1121.46,1146.42 1121.86,1144.82 1122.26,1142.71 1122.66,1138.56 1123.06,1132.79 1123.46,1125.6 1123.86,1119.91 1124.26,1124.24 1124.66,1132.64 1125.06,1140.1 1125.46,1143.25 1125.86,1144 1126.26,1145.27 1126.66,1146.6 1127.06,1146.68 1127.46,1148.12 1127.86,1147.73 1128.26,1147.45 1128.66,1148.81 1129.06,1148 1129.46,1148.51 1129.86,1148.47 1130.26,1148.39 1130.66,1148.76 1131.06,1148.29 1131.46,1147.75 1131.86,1147.6 1132.26,1148.09 1132.66,1148.35 1133.06,1148.73 1133.46,1148.77 1133.86,1149.02 1134.26,1148.8 1134.66,1148.33 1135.06,1148.36 1135.46,1147.64 1135.86,1148.59 1136.26,1148.89 1136.66,1148.88 1137.06,1148.51 1137.47,1148.44 1137.87,1148.94 1138.27,1148.42 1138.67,1148.71 1139.07,1148.55 1139.47,1148.26 1139.87,1148.7 1140.27,1147.62 1140.67,1147.57 1141.07,1147.17 1141.47,1146.96 1141.87,1147.88 1142.27,1147.68 1142.67,1146.45 1143.07,1146.31 1143.47,1146.12 1143.87,1145.38 1144.27,1144.96 1144.67,1143.07 1145.07,1142.73 1145.47,1142.72 1145.87,1142.83 1146.27,1142.02 1146.67,1141.68 1147.07,1142.32 1147.47,1142.73 1147.87,1143.28 1148.27,1145.12 1148.67,1144.68 1149.07,1145.56 1149.47,1147.12 1149.87,1147.06 1150.27,1146.99 1150.67,1146.82 1151.07,1147.59 1151.47,1148.41 1151.87,1148.09 1152.27,1148.57 1152.67,1148.12 1153.07,1148.44 1153.47,1148.18 1153.87,1148.57 1154.27,1149.07 1154.67,1147.76 1155.07,1148.49 1155.47,1148.67 1155.87,1148.28 1156.27,1148.42 1156.67,1148.97 1157.07,1149.56 1157.47,1148.83 1157.87,1148.62 1158.27,1147.6 1158.67,1149.21 1159.07,1148.09 1159.47,1147.76 1159.87,1146.79 1160.27,1146.66 1160.67,1145.03 1161.07,1143.69 1161.47,1140.42 1161.87,1134.79 1162.27,1131.31 1162.67,1134.37 1163.07,1140.95 1163.47,1143.4 1163.88,1144.78 1164.28,1146.73 1164.68,1147.13 1165.08,1147.46 1165.48,1148.1 1165.88,1148.64 1166.28,1148.07 1166.68,1148.71 1167.08,1149.59 1167.48,1149.29 1167.88,1148.93 1168.28,1149.12 1168.68,1149.04 1169.08,1149.1 1169.48,1149.52 1169.88,1149.12 1170.28,1147.98 1170.68,1149.17 1171.08,1148.72 1171.48,1149.47 1171.88,1148.78 1172.28,1149.06 1172.68,1149.89 1173.08,1147.93 1173.48,1147.38 1173.88,1147.03 1174.28,1146.98 1174.68,1147.72 1175.08,1149.14 1175.48,1148.81 1175.88,1148.29 1176.28,1148.55 1176.68,1149.64 1177.08,1148.98 1177.48,1149.21 1177.88,1149.58 1178.28,1150.11 1178.68,1150.41 1179.08,1149.97 1179.48,1149.54 1179.88,1149.57 1180.28,1150.38 1180.68,1150.2 1181.08,1149.34 1181.48,1149.73 1181.88,1149.65 1182.28,1149.54 1182.68,1149.27 1183.08,1148.86 1183.48,1149.26 1183.88,1148.76 1184.28,1150.15 1184.68,1149.81 1185.08,1148.95 1185.48,1150.25 1185.88,1150 1186.28,1148.61 1186.68,1150.49 1187.08,1149.97 1187.48,1150.6 1187.88,1148.96 1188.28,1149.85 1188.68,1149.79 1189.08,1149.69 1189.48,1149.68 1189.88,1150.12 1190.28,1148.85 1190.69,1148.98 1191.09,1148.91 1191.49,1149.33 1191.89,1149.31 1192.29,1149.8 1192.69,1149.75 1193.09,1149.63 1193.49,1149.28 1193.89,1149.4 1194.29,1150.1 1194.69,1150.01 1195.09,1149.68 1195.49,1149.47 1195.89,1150.41 1196.29,1149.34 1196.69,1149.97 1197.09,1150.22 1197.49,1149.51 1197.89,1150.06 1198.29,1149.09 1198.69,1150.16 1199.09,1149.76 1199.49,1148.87 1199.89,1150 1200.29,1149.22 1200.69,1150.31 1201.09,1149.33 1201.49,1149.59 1201.89,1149.82 1202.29,1149.51 1202.69,1149.81 1203.09,1149.41 1203.49,1150.02 1203.89,1149.69 1204.29,1149.8 1204.69,1148.32 1205.09,1150.28 1205.49,1149.71 1205.89,1148.81 1206.29,1149.75 1206.69,1149.94 1207.09,1150.24 1207.49,1149.17 1207.89,1150.48 1208.29,1149.63 1208.69,1150.91 1209.09,1149.64 1209.49,1150.06 1209.89,1149.54 1210.29,1149.17 1210.69,1150.27 1211.09,1150.18 1211.49,1150.5 1211.89,1150.16 1212.29,1149.45 1212.69,1148.91 1213.09,1149.41 1213.49,1149.4 1213.89,1149.34 1214.29,1150.04 1214.69,1149.91 1215.09,1149.62 1215.49,1149.84 1215.89,1149.68 1216.29,1149.86 1216.69,1150.13 1217.09,1150.24 1217.5,1149.42 1217.9,1149.01 1218.3,1150.48 1218.7,1149.83 1219.1,1150.32 1219.5,1148.95 1219.9,1149.61" fill="none" stroke="#4a4c9e" stroke-width="1.5" stroke-linejoin="round"/>
<rect x="963.8" y="1003.3" width="256.1" height="177.3" fill="none" stroke="#111" stroke-width="1.8"/>
<line x1="963.8" y1="1180.6" x2="963.8" y2="1183.6" stroke="#111" stroke-width="1"/>
<text x="963.8" y="1197.8" font-size="12.6" fill="#111" text-anchor="middle">10</text>
<line x1="995.81" y1="1180.6" x2="995.81" y2="1183.6" stroke="#111" stroke-width="1"/>
<text x="995.81" y="1197.8" font-size="12.6" fill="#111" text-anchor="middle">20</text>
<line x1="1027.82" y1="1180.6" x2="1027.82" y2="1183.6" stroke="#111" stroke-width="1"/>
<text x="1027.82" y="1197.8" font-size="12.6" fill="#111" text-anchor="middle">30</text>
<line x1="1059.84" y1="1180.6" x2="1059.84" y2="1183.6" stroke="#111" stroke-width="1"/>
<text x="1059.84" y="1197.8" font-size="12.6" fill="#111" text-anchor="middle">40</text>
<line x1="1091.85" y1="1180.6" x2="1091.85" y2="1183.6" stroke="#111" stroke-width="1"/>
<text x="1091.85" y="1197.8" font-size="12.6" fill="#111" text-anchor="middle">50</text>
<line x1="1123.86" y1="1180.6" x2="1123.86" y2="1183.6" stroke="#111" stroke-width="1"/>
<text x="1123.86" y="1197.8" font-size="12.6" fill="#111" text-anchor="middle">60</text>
<line x1="1155.87" y1="1180.6" x2="1155.87" y2="1183.6" stroke="#111" stroke-width="1"/>
<text x="1155.87" y="1197.8" font-size="12.6" fill="#111" text-anchor="middle">70</text>
<line x1="1187.88" y1="1180.6" x2="1187.88" y2="1183.6" stroke="#111" stroke-width="1"/>
<text x="1187.88" y="1197.8" font-size="12.6" fill="#111" text-anchor="middle">80</text>
<line x1="1219.9" y1="1180.6" x2="1219.9" y2="1183.6" stroke="#111" stroke-width="1"/>
<text x="1219.9" y="1197.8" font-size="12.6" fill="#111" text-anchor="middle">90</text>
<line x1="979.81" y1="1180.6" x2="979.81" y2="1182.4" stroke="#111" stroke-width="0.9"/>
<line x1="1011.82" y1="1180.6" x2="1011.82" y2="1182.4" stroke="#111" stroke-width="0.9"/>
<line x1="1043.83" y1="1180.6" x2="1043.83" y2="1182.4" stroke="#111" stroke-width="0.9"/>
<line x1="1075.84" y1="1180.6" x2="1075.84" y2="1182.4" stroke="#111" stroke-width="0.9"/>
<line x1="1107.85" y1="1180.6" x2="1107.85" y2="1182.4" stroke="#111" stroke-width="0.9"/>
<line x1="1139.87" y1="1180.6" x2="1139.87" y2="1182.4" stroke="#111" stroke-width="0.9"/>
<line x1="1171.88" y1="1180.6" x2="1171.88" y2="1182.4" stroke="#111" stroke-width="0.9"/>
<line x1="1203.89" y1="1180.6" x2="1203.89" y2="1182.4" stroke="#111" stroke-width="0.9"/>
<text x="1091.6" y="1210.8" font-size="13" fill="#111" text-anchor="middle">2theta(°)</text>
<text x="956.4" y="1091.6" font-size="13" fill="#111" text-anchor="middle" transform="rotate(-90 956.4 1091.6)">Intensity(a.u.)</text>
<text x="968.6" y="1036.5" font-size="41" fill="#000" font-weight="bold">f</text>
<line x1="1132.2" y1="1013.4" x2="1166.2" y2="1013.4" stroke="#e3c6de" stroke-width="1.3"/>
<text x="1170.5" y="1018.8" font-size="14" fill="#111">After</text>
<line x1="1132.2" y1="1032.4" x2="1166.2" y2="1032.4" stroke="#4a4c9e" stroke-width="1.3"/>
<text x="1170.5" y="1037.8" font-size="14" fill="#111">Pristine</text>
<text x="969.2" y="1093.9" font-size="9.2" fill="#3c9bdc">Al<tspan dy="2.02" font-size="5.7">2</tspan><tspan dy="-2.02">O</tspan><tspan dy="2.02" font-size="5.7">3</tspan></text>
<text x="993.4" y="1093.9" font-size="9.2" fill="#3c9bdc">PDF#46-1131</text>
<text x="969.2" y="1106.9" font-size="9.2" fill="#f2b566">SiC</text>
<text x="993.4" y="1106.9" font-size="9.2" fill="#f2b566">PDF#73-1665</text>
<text x="969.2" y="1119.4" font-size="9.2" fill="#82cc4d">RuO<tspan dy="2.02" font-size="5.7">2</tspan></text>
<text x="993.4" y="1119.4" font-size="9.2" fill="#82cc4d">PDF#88-0286</text>
<text x="969.2" y="1132.6" font-size="9.2" fill="#4b4b55">Ru</text>
<text x="993.4" y="1132.6" font-size="9.2" fill="#4b4b55">PDF#06-0663</text>
</svg>
</body></html>
